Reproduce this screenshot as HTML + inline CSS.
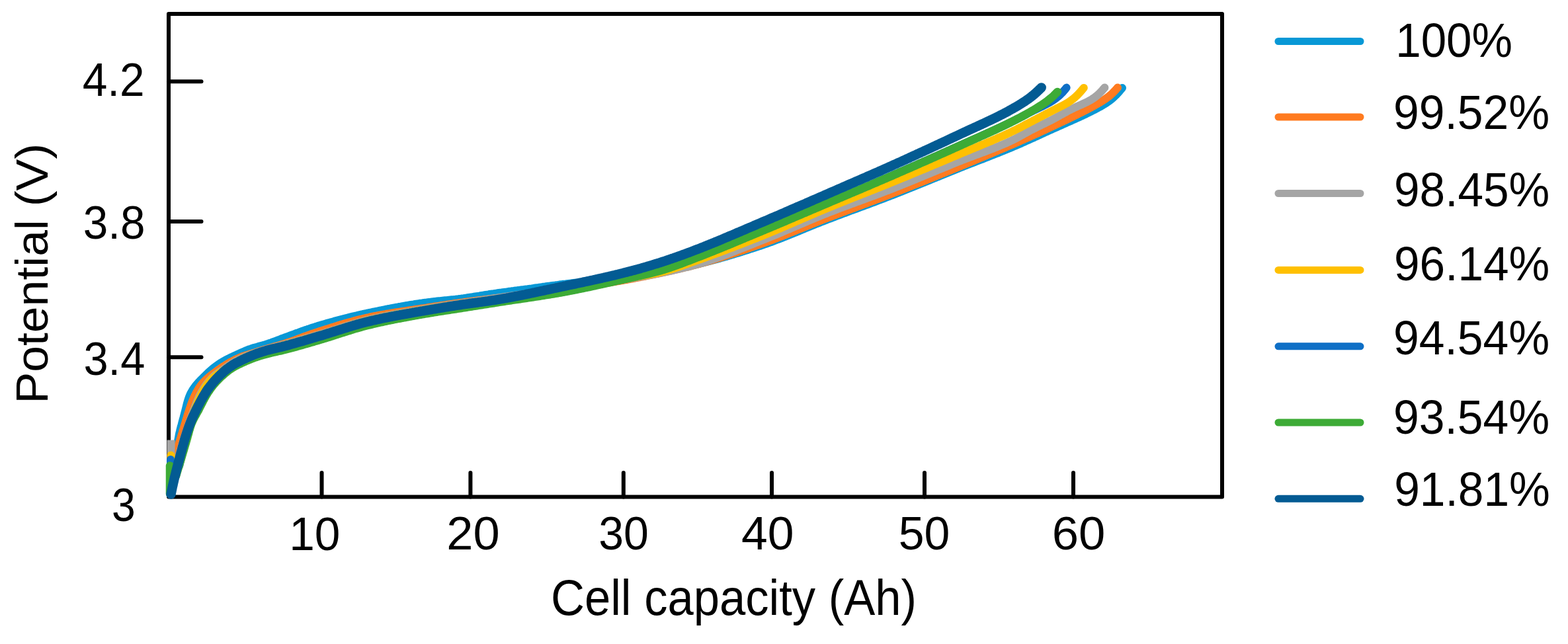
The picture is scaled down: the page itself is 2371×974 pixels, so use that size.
<!DOCTYPE html>
<html><head><meta charset="utf-8"><title>Potential vs cell capacity</title>
<style>html,body{margin:0;padding:0;background:#fff;width:2371px;height:974px;overflow:hidden}svg{display:block}</style>
</head><body>
<svg width="2371" height="974" viewBox="0 0 2371 974">
<rect width="2371" height="974" fill="#fff"/>
<g fill="none" stroke="#000" stroke-width="6" stroke-linecap="round" stroke-linejoin="round">
<path d="M255,751.5L255,21L1848,21L1848,751.5Z"/>
<path d="M255,123.3L304.5,123.3"/>
<path d="M255,335.0L304.5,335.0"/>
<path d="M255,540.2L304.5,540.2"/>
<path d="M486.5,751.5L486.5,715"/>
<path d="M711.4,751.5L711.4,715"/>
<path d="M942.8,751.5L942.8,715"/>
<path d="M1167.0,751.5L1167.0,715"/>
<path d="M1398.0,751.5L1398.0,715"/>
<path d="M1623.0,751.5L1623.0,715"/>
</g>
<g fill="none" stroke-width="11.5" stroke-linecap="round" stroke-linejoin="round">
<path stroke="#0898d6" stroke-width="12.0" d="M262.0,700.0L262.3,698.0L262.7,696.1L263.0,694.1L263.4,692.1L263.8,690.2L264.2,688.2L264.7,686.3L265.1,684.3L265.6,682.4L266.1,680.4L266.6,678.5L267.1,676.6L267.5,674.6L268.0,672.7L268.4,670.7L268.8,668.8L269.1,666.8L269.5,664.8L269.8,662.9L270.2,660.9L270.5,659.0L270.9,657.0L271.3,655.0L271.8,653.1L272.2,651.2L272.7,649.2L273.2,647.3L273.7,645.3L274.3,643.4L274.8,641.5L275.3,639.5L275.8,637.6L276.3,635.7L276.8,633.7L277.4,631.8L277.9,629.9L278.4,627.9L278.9,626.0L279.4,624.1L279.9,622.1L280.4,620.2L280.9,618.2L281.4,616.3L281.9,614.3L282.3,612.4L282.8,610.4L283.4,608.5L283.9,606.6L284.5,604.7L285.1,602.8L285.8,601.0L286.5,599.1L287.3,597.3L288.1,595.5L289.0,593.7L290.0,592.0L291.0,590.3L292.1,588.6L293.2,586.9L294.4,585.3L295.6,583.7L296.8,582.1L298.1,580.6L299.4,579.1L300.8,577.6L302.2,576.2L303.6,574.7L305.0,573.3L306.4,571.9L307.8,570.5L309.3,569.1L310.7,567.7L312.1,566.3L313.5,564.9L315.0,563.5L316.4,562.2L317.9,560.8L319.4,559.5L320.9,558.2L322.5,556.9L324.0,555.7L325.6,554.5L327.2,553.3L328.9,552.1L330.5,551.0L332.2,549.9L333.8,548.8L335.5,547.7L337.3,546.7L339.0,545.7L340.7,544.8L342.5,543.8L344.3,542.9L346.1,542.0L347.9,541.1L349.7,540.2L351.5,539.4L353.3,538.5L355.1,537.7L356.9,536.9L358.7,536.1L360.6,535.2L362.4,534.4L364.2,533.6L366.1,532.8L367.9,532.0L369.7,531.2L371.6,530.4L373.4,529.7L375.3,528.9L377.1,528.2L379.0,527.6L380.9,526.9L382.8,526.3L384.7,525.7L386.6,525.2L388.6,524.7L390.5,524.1L392.4,523.6L394.4,523.1L396.3,522.6L398.2,522.0L400.1,521.5L402.0,520.9L403.9,520.3L405.8,519.7L407.7,519.0L409.6,518.4L411.5,517.7L413.4,517.0L415.2,516.3L417.1,515.6L419.0,514.9L420.9,514.2L422.7,513.5L424.6,512.7L426.5,512.0L428.4,511.3L430.2,510.6L432.1,509.9L434.0,509.3L435.9,508.6L437.7,507.9L439.6,507.2L441.5,506.5L443.4,505.8L445.3,505.1L447.1,504.4L449.0,503.7L450.9,503.1L452.8,502.4L454.7,501.7L456.6,501.0L458.4,500.3L460.3,499.7L462.2,499.0L464.1,498.4L466.0,497.7L467.9,497.1L469.8,496.4L471.7,495.8L473.6,495.2L475.5,494.6L477.4,494.0L479.3,493.4L481.2,492.8L483.1,492.2L485.0,491.6L486.9,491.1L488.8,490.5L490.8,490.0L492.7,489.4L494.6,488.8L496.5,488.3L498.5,487.8L500.4,487.2L502.3,486.7L504.2,486.2L506.2,485.6L508.1,485.1L510.0,484.6L512.0,484.1L513.9,483.6L515.8,483.0L517.8,482.5L519.7,482.0L521.7,481.5L523.6,481.0L525.5,480.6L527.5,480.1L529.4,479.6L531.4,479.1L533.3,478.6L535.3,478.2L537.2,477.7L539.2,477.3L541.1,476.8L543.1,476.3L545.0,475.9L547.0,475.5L548.9,475.0L550.9,474.6L552.8,474.2L554.8,473.7L556.7,473.3L558.7,472.9L560.6,472.5L562.6,472.1L564.5,471.7L566.5,471.3L568.5,470.9L570.4,470.5L572.4,470.1L574.3,469.7L576.3,469.3L578.3,468.9L580.2,468.5L582.2,468.1L584.1,467.7L586.1,467.3L588.1,467.0L590.0,466.6L592.0,466.2L594.0,465.8L595.9,465.5L597.9,465.1L599.9,464.7L601.8,464.4L603.8,464.0L605.8,463.7L607.8,463.3L609.7,463.0L611.7,462.6L613.7,462.3L615.7,462.0L617.6,461.6L619.6,461.3L621.6,461.0L623.6,460.7L625.5,460.4L627.5,460.0L629.5,459.7L631.5,459.4L633.4,459.1L635.4,458.8L637.4,458.6L639.4,458.3L641.4,458.0L643.3,457.7L645.3,457.5L647.3,457.2L649.3,456.9L651.3,456.7L653.2,456.4L655.2,456.2L657.2,456.0L659.2,455.8L661.2,455.5L663.2,455.3L665.2,455.1L667.2,454.9L669.1,454.7L671.1,454.5L673.1,454.3L675.1,454.1L677.1,453.9L679.1,453.7L681.1,453.5L683.1,453.3L685.1,453.1L687.1,452.9L689.0,452.7L691.0,452.4L693.0,452.2L695.0,451.9L697.0,451.7L699.0,451.4L701.0,451.2L702.9,450.9L704.9,450.6L706.9,450.3L708.9,450.0L710.8,449.7L712.8,449.4L714.8,449.1L716.8,448.8L718.8,448.5L720.7,448.2L722.7,447.9L724.7,447.6L726.7,447.2L728.6,446.9L730.6,446.6L732.6,446.3L734.6,446.0L736.5,445.7L738.5,445.4L740.5,445.0L742.5,444.7L744.4,444.4L746.4,444.2L748.4,443.9L750.4,443.6L752.4,443.3L754.3,443.0L756.3,442.7L758.3,442.5L760.3,442.2L762.3,441.9L764.2,441.6L766.2,441.4L768.2,441.1L770.2,440.8L772.2,440.6L774.2,440.3L776.1,440.1L778.1,439.8L780.1,439.5L782.1,439.3L784.1,439.0L786.0,438.8L788.0,438.5L790.0,438.2L792.0,438.0L794.0,437.7L796.0,437.4L797.9,437.2L799.9,436.9L801.9,436.6L803.9,436.4L805.9,436.1L807.9,435.8L809.8,435.5L811.8,435.2L813.8,435.0L815.8,434.7L817.8,434.4L819.7,434.1L821.7,433.8L823.7,433.6L825.7,433.3L827.7,433.0L829.6,432.7L831.6,432.5L833.6,432.2L835.6,431.9L837.6,431.6L839.5,431.4L841.5,431.1L843.5,430.9L845.5,430.6L847.5,430.3L849.5,430.1L851.4,429.8L853.4,429.6L855.4,429.4L857.4,429.1L859.4,428.9L861.4,428.7L863.4,428.5L865.4,428.2L867.3,428.0L869.3,427.8L871.3,427.6L873.3,427.4L875.3,427.2L877.3,427.0L879.3,426.8L881.3,426.5L883.3,426.3L885.3,426.1L887.2,425.9L889.2,425.7L891.2,425.5L893.2,425.3L895.2,425.1L897.2,425.0L899.2,424.8L901.2,424.6L903.2,424.4L905.2,424.2L907.2,423.9L909.2,423.7L911.1,423.5L913.1,423.3L915.1,423.1L917.1,422.9L919.1,422.7L921.1,422.5L923.1,422.3L925.1,422.1L927.1,421.8L929.0,421.6L931.0,421.4L933.0,421.1L935.0,420.9L937.0,420.7L939.0,420.4L940.9,420.2L942.9,419.9L944.9,419.7L946.9,419.4L948.9,419.1L950.8,418.9L952.8,418.6L954.8,418.3L956.8,418.0L958.7,417.7L960.7,417.4L962.7,417.1L964.7,416.8L966.7,416.5L968.6,416.2L970.6,415.9L972.6,415.6L974.6,415.3L976.5,414.9L978.5,414.6L980.5,414.3L982.5,414.0L984.4,413.6L986.4,413.3L988.4,412.9L990.4,412.6L992.3,412.2L994.3,411.9L996.3,411.5L998.2,411.1L1000.2,410.8L1002.2,410.4L1004.1,410.0L1006.1,409.7L1008.1,409.3L1010.0,408.9L1012.0,408.5L1014.0,408.1L1015.9,407.7L1017.9,407.3L1019.9,407.0L1021.8,406.6L1023.8,406.1L1025.7,405.7L1027.7,405.3L1029.7,404.9L1031.6,404.5L1033.6,404.1L1035.5,403.7L1037.5,403.3L1039.4,402.8L1041.4,402.4L1043.3,402.0L1045.3,401.5L1047.2,401.1L1049.2,400.7L1051.1,400.2L1053.1,399.8L1055.0,399.3L1056.9,398.9L1058.9,398.4L1060.8,397.9L1062.8,397.5L1064.7,397.0L1066.6,396.5L1068.6,396.0L1070.5,395.5L1072.5,395.0L1074.4,394.5L1076.3,394.0L1078.3,393.5L1080.2,393.0L1082.1,392.5L1084.1,391.9L1086.0,391.4L1087.9,390.9L1089.9,390.3L1091.8,389.8L1093.7,389.2L1095.6,388.7L1097.6,388.1L1099.5,387.6L1101.4,387.0L1103.3,386.4L1105.3,385.9L1107.2,385.3L1109.1,384.7L1111.0,384.1L1112.9,383.5L1114.8,383.0L1116.8,382.4L1118.7,381.8L1120.6,381.2L1122.5,380.6L1124.4,380.0L1126.3,379.4L1128.2,378.8L1130.1,378.2L1132.0,377.6L1133.9,376.9L1135.8,376.3L1137.8,375.7L1139.7,375.1L1141.5,374.5L1143.4,373.9L1145.3,373.2L1147.2,372.6L1149.1,372.0L1151.0,371.3L1152.9,370.7L1154.8,370.0L1156.7,369.4L1158.6,368.7L1160.4,368.1L1162.3,367.4L1164.2,366.7L1166.1,366.0L1167.9,365.3L1169.8,364.6L1171.7,363.9L1173.6,363.2L1175.4,362.5L1177.3,361.8L1179.2,361.1L1181.0,360.4L1182.9,359.6L1184.7,358.9L1186.6,358.2L1188.5,357.4L1190.3,356.7L1192.2,355.9L1194.0,355.2L1195.9,354.4L1197.7,353.7L1199.6,352.9L1201.4,352.2L1203.3,351.4L1205.2,350.6L1207.0,349.9L1208.9,349.1L1210.7,348.3L1212.6,347.6L1214.4,346.8L1216.3,346.1L1218.1,345.3L1220.0,344.5L1221.8,343.8L1223.7,343.0L1225.5,342.3L1227.4,341.5L1229.2,340.8L1231.1,340.0L1233.0,339.2L1234.8,338.5L1236.7,337.8L1238.5,337.0L1240.4,336.3L1242.3,335.5L1244.1,334.8L1246.0,334.1L1247.8,333.4L1249.7,332.6L1251.6,331.9L1253.4,331.2L1255.3,330.5L1257.2,329.8L1259.0,329.1L1260.9,328.4L1262.8,327.6L1264.7,326.9L1266.5,326.2L1268.4,325.5L1270.3,324.8L1272.1,324.1L1274.0,323.4L1275.9,322.7L1277.8,322.0L1279.6,321.3L1281.5,320.6L1283.4,319.9L1285.3,319.2L1287.1,318.5L1289.0,317.8L1290.9,317.1L1292.8,316.5L1294.6,315.8L1296.5,315.1L1298.4,314.4L1300.3,313.7L1302.1,313.0L1304.0,312.3L1305.9,311.6L1307.8,310.9L1309.6,310.2L1311.5,309.5L1313.4,308.8L1315.3,308.1L1317.1,307.4L1319.0,306.7L1320.9,306.0L1322.8,305.3L1324.6,304.6L1326.5,303.9L1328.4,303.2L1330.2,302.5L1332.1,301.8L1334.0,301.0L1335.9,300.3L1337.7,299.6L1339.6,298.9L1341.5,298.2L1343.3,297.5L1345.2,296.8L1347.1,296.0L1348.9,295.3L1350.8,294.6L1352.6,293.9L1354.5,293.1L1356.4,292.4L1358.2,291.7L1360.1,290.9L1361.9,290.2L1363.8,289.5L1365.7,288.7L1367.5,288.0L1369.4,287.2L1371.2,286.5L1373.1,285.7L1374.9,285.0L1376.8,284.3L1378.7,283.5L1380.5,282.8L1382.4,282.0L1384.2,281.3L1386.1,280.5L1387.9,279.7L1389.8,279.0L1391.6,278.2L1393.5,277.5L1395.3,276.7L1397.2,276.0L1399.0,275.2L1400.9,274.5L1402.7,273.7L1404.6,273.0L1406.4,272.2L1408.3,271.4L1410.1,270.7L1412.0,269.9L1413.9,269.2L1415.7,268.4L1417.6,267.7L1419.4,266.9L1421.3,266.1L1423.1,265.4L1425.0,264.6L1426.8,263.9L1428.7,263.1L1430.5,262.4L1432.4,261.6L1434.2,260.9L1436.1,260.1L1437.9,259.4L1439.8,258.6L1441.6,257.9L1443.5,257.1L1445.4,256.4L1447.2,255.6L1449.1,254.9L1450.9,254.1L1452.8,253.4L1454.6,252.7L1456.5,251.9L1458.4,251.2L1460.2,250.5L1462.1,249.7L1463.9,249.0L1465.8,248.3L1467.7,247.5L1469.5,246.8L1471.4,246.1L1473.3,245.4L1475.1,244.6L1477.0,243.9L1478.9,243.2L1480.7,242.5L1482.6,241.7L1484.5,241.0L1486.3,240.3L1488.2,239.6L1490.0,238.8L1491.9,238.1L1493.8,237.4L1495.6,236.6L1497.5,235.9L1499.4,235.2L1501.2,234.5L1503.1,233.7L1504.9,233.0L1506.8,232.2L1508.7,231.5L1510.5,230.8L1512.4,230.0L1514.2,229.3L1516.1,228.5L1517.9,227.8L1519.8,227.0L1521.6,226.3L1523.5,225.5L1525.3,224.7L1527.2,224.0L1529.0,223.2L1530.9,222.4L1532.7,221.6L1534.5,220.8L1536.4,220.1L1538.2,219.3L1540.0,218.5L1541.9,217.7L1543.7,216.9L1545.5,216.1L1547.4,215.2L1549.2,214.4L1551.0,213.6L1552.8,212.8L1554.7,212.0L1556.5,211.2L1558.3,210.3L1560.1,209.5L1562.0,208.7L1563.8,207.9L1565.6,207.0L1567.4,206.2L1569.2,205.4L1571.1,204.5L1572.9,203.7L1574.7,202.8L1576.5,202.0L1578.3,201.2L1580.1,200.3L1582.0,199.5L1583.8,198.7L1585.6,197.8L1587.4,197.0L1589.2,196.2L1591.1,195.4L1592.9,194.5L1594.7,193.7L1596.5,192.9L1598.4,192.1L1600.2,191.3L1602.0,190.5L1603.8,189.7L1605.7,188.9L1607.5,188.1L1609.3,187.3L1611.2,186.4L1613.0,185.6L1614.8,184.8L1616.6,184.0L1618.5,183.2L1620.3,182.4L1622.1,181.5L1623.9,180.7L1625.8,179.9L1627.6,179.1L1629.4,178.2L1631.2,177.4L1633.1,176.6L1634.9,175.7L1636.7,174.9L1638.5,174.1L1640.3,173.2L1642.1,172.4L1643.9,171.5L1645.7,170.6L1647.5,169.7L1649.3,168.8L1651.1,167.9L1652.9,167.0L1654.7,166.1L1656.4,165.2L1658.2,164.2L1660.0,163.3L1661.8,162.3L1663.5,161.4L1665.3,160.4L1667.0,159.4L1668.7,158.3L1670.5,157.3L1672.1,156.2L1673.8,155.1L1675.4,154.0L1677.0,152.9L1678.6,151.7L1680.2,150.5L1681.7,149.2L1683.2,147.9L1684.6,146.6L1686.1,145.2L1687.5,143.9L1688.9,142.4L1690.2,141.0L1691.5,139.5L1692.8,138.1L1694.0,136.6L1695.2,135.2L1696.4,133.7L1697.0,133.0"/>
<path stroke="#ff7b20" stroke-width="12.0" d="M263.0,700.0L263.4,698.0L263.8,696.1L264.2,694.1L264.7,692.2L265.1,690.2L265.6,688.3L266.1,686.3L266.6,684.4L267.1,682.5L267.7,680.6L268.2,678.7L268.8,676.7L269.4,674.8L270.0,672.9L270.6,671.0L271.2,669.1L271.8,667.2L272.4,665.3L273.0,663.4L273.6,661.5L274.1,659.5L274.7,657.6L275.3,655.7L275.9,653.8L276.4,651.9L277.0,650.0L277.6,648.0L278.2,646.1L278.7,644.2L279.3,642.3L279.9,640.4L280.5,638.5L281.0,636.6L281.6,634.6L282.2,632.7L282.8,630.8L283.3,628.9L283.9,627.0L284.5,625.1L285.1,623.2L285.8,621.3L286.4,619.4L287.0,617.5L287.7,615.6L288.3,613.7L289.0,611.8L289.7,609.9L290.4,608.0L291.2,606.2L291.9,604.3L292.7,602.5L293.5,600.7L294.3,598.9L295.2,597.0L296.1,595.3L297.0,593.5L298.0,591.7L299.0,590.0L300.0,588.3L301.1,586.6L302.2,584.9L303.4,583.3L304.6,581.7L305.8,580.2L307.1,578.7L308.4,577.3L309.8,575.8L311.2,574.5L312.7,573.1L314.2,571.8L315.7,570.5L317.3,569.2L318.8,567.9L320.4,566.7L322.0,565.4L323.6,564.2L325.2,563.0L326.8,561.8L328.4,560.6L330.0,559.4L331.7,558.3L333.3,557.2L335.0,556.0L336.6,554.9L338.3,553.8L340.0,552.8L341.7,551.7L343.4,550.7L345.1,549.6L346.8,548.6L348.6,547.6L350.3,546.7L352.1,545.7L353.9,544.8L355.6,543.9L357.4,543.0L359.3,542.2L361.1,541.4L362.9,540.6L364.8,539.9L366.6,539.2L368.5,538.5L370.4,537.9L372.3,537.2L374.2,536.6L376.1,536.0L378.0,535.4L379.9,534.9L381.9,534.3L383.8,533.7L385.7,533.1L387.6,532.5L389.5,531.8L391.4,531.2L393.3,530.6L395.2,530.0L397.1,529.4L399.0,528.9L400.9,528.3L402.9,527.7L404.8,527.1L406.7,526.6L408.6,526.0L410.5,525.5L412.5,524.9L414.4,524.4L416.3,523.9L418.2,523.3L420.2,522.8L422.1,522.2L424.0,521.6L425.9,521.1L427.8,520.5L429.7,519.9L431.6,519.3L433.5,518.7L435.4,518.0L437.3,517.4L439.2,516.8L441.1,516.1L443.0,515.4L444.9,514.8L446.8,514.1L448.6,513.4L450.5,512.7L452.4,512.0L454.3,511.3L456.2,510.6L458.0,509.9L459.9,509.2L461.8,508.5L463.7,507.9L465.6,507.2L467.4,506.5L469.3,505.8L471.2,505.2L473.1,504.5L475.0,503.9L476.9,503.2L478.8,502.6L480.7,502.0L482.6,501.3L484.5,500.7L486.4,500.1L488.3,499.5L490.2,498.9L492.1,498.3L494.0,497.7L495.9,497.1L497.8,496.5L499.7,495.9L501.6,495.3L503.6,494.7L505.5,494.1L507.4,493.5L509.3,492.9L511.2,492.3L513.1,491.7L515.1,491.1L517.0,490.6L518.9,490.0L520.8,489.4L522.8,488.9L524.7,488.3L526.6,487.8L528.5,487.2L530.5,486.7L532.4,486.2L534.3,485.6L536.3,485.1L538.2,484.6L540.1,484.1L542.1,483.6L544.0,483.1L545.9,482.7L547.9,482.2L549.8,481.7L551.8,481.3L553.7,480.8L555.7,480.4L557.6,480.0L559.5,479.5L561.5,479.1L563.4,478.7L565.4,478.3L567.4,478.0L569.3,477.6L571.3,477.2L573.2,476.8L575.2,476.5L577.2,476.1L579.1,475.8L581.1,475.4L583.1,475.1L585.0,474.7L587.0,474.4L589.0,474.1L590.9,473.8L592.9,473.4L594.9,473.1L596.9,472.8L598.8,472.5L600.8,472.2L602.8,471.9L604.8,471.6L606.8,471.3L608.7,471.0L610.7,470.7L612.7,470.4L614.7,470.1L616.7,469.8L618.7,469.5L620.6,469.2L622.6,468.9L624.6,468.6L626.6,468.3L628.6,468.0L630.5,467.7L632.5,467.4L634.5,467.1L636.5,466.8L638.5,466.5L640.4,466.3L642.4,466.0L644.4,465.7L646.4,465.3L648.4,465.0L650.3,464.7L652.3,464.4L654.3,464.1L656.3,463.8L658.2,463.5L660.2,463.2L662.2,462.9L664.2,462.6L666.2,462.3L668.1,462.0L670.1,461.7L672.1,461.4L674.1,461.1L676.0,460.8L678.0,460.5L680.0,460.2L682.0,459.9L684.0,459.6L685.9,459.3L687.9,459.0L689.9,458.7L691.9,458.5L693.8,458.2L695.8,457.9L697.8,457.6L699.8,457.4L701.8,457.1L703.8,456.8L705.7,456.6L707.7,456.3L709.7,456.1L711.7,455.8L713.7,455.5L715.7,455.3L717.6,455.0L719.6,454.8L721.6,454.5L723.6,454.3L725.6,454.1L727.6,453.8L729.5,453.6L731.5,453.3L733.5,453.1L735.5,452.8L737.5,452.6L739.5,452.3L741.5,452.1L743.4,451.8L745.4,451.6L747.4,451.3L749.4,451.1L751.4,450.8L753.4,450.6L755.3,450.3L757.3,450.1L759.3,449.8L761.3,449.6L763.3,449.3L765.3,449.1L767.3,448.8L769.2,448.6L771.2,448.3L773.2,448.1L775.2,447.8L777.2,447.6L779.2,447.3L781.1,447.0L783.1,446.8L785.1,446.5L787.1,446.3L789.1,446.0L791.1,445.8L793.1,445.5L795.0,445.3L797.0,445.0L799.0,444.8L801.0,444.5L803.0,444.3L805.0,444.0L806.9,443.8L808.9,443.5L810.9,443.3L812.9,443.0L814.9,442.7L816.9,442.5L818.8,442.2L820.8,442.0L822.8,441.7L824.8,441.4L826.8,441.2L828.8,440.9L830.7,440.6L832.7,440.4L834.7,440.1L836.7,439.8L838.7,439.6L840.6,439.3L842.6,439.0L844.6,438.7L846.6,438.5L848.6,438.2L850.5,437.9L852.5,437.6L854.5,437.4L856.5,437.1L858.5,436.8L860.4,436.5L862.4,436.2L864.4,436.0L866.4,435.7L868.4,435.4L870.3,435.1L872.3,434.8L874.3,434.5L876.3,434.2L878.3,434.0L880.2,433.7L882.2,433.4L884.2,433.1L886.2,432.8L888.2,432.5L890.1,432.2L892.1,431.9L894.1,431.6L896.1,431.3L898.1,431.0L900.0,430.7L902.0,430.4L904.0,430.1L906.0,429.8L908.0,429.5L909.9,429.2L911.9,428.9L913.9,428.6L915.9,428.3L917.8,427.9L919.8,427.6L921.8,427.3L923.8,427.0L925.7,426.7L927.7,426.3L929.7,426.0L931.6,425.7L933.6,425.3L935.6,425.0L937.6,424.7L939.5,424.3L941.5,424.0L943.5,423.6L945.4,423.3L947.4,423.0L949.4,422.6L951.3,422.2L953.3,421.9L955.3,421.5L957.2,421.2L959.2,420.8L961.2,420.4L963.1,420.1L965.1,419.7L967.1,419.3L969.0,418.9L971.0,418.6L973.0,418.2L974.9,417.8L976.9,417.4L978.8,417.0L980.8,416.6L982.8,416.2L984.7,415.8L986.7,415.4L988.7,415.0L990.6,414.6L992.6,414.2L994.5,413.8L996.5,413.4L998.5,413.0L1000.4,412.5L1002.4,412.1L1004.3,411.7L1006.3,411.3L1008.2,410.8L1010.2,410.4L1012.2,410.0L1014.1,409.5L1016.1,409.1L1018.0,408.6L1020.0,408.2L1021.9,407.7L1023.9,407.3L1025.8,406.8L1027.7,406.4L1029.7,405.9L1031.6,405.4L1033.6,405.0L1035.5,404.5L1037.5,404.0L1039.4,403.6L1041.3,403.1L1043.3,402.6L1045.2,402.1L1047.1,401.6L1049.1,401.1L1051.0,400.6L1052.9,400.1L1054.9,399.6L1056.8,399.1L1058.7,398.6L1060.6,398.0L1062.6,397.5L1064.5,397.0L1066.4,396.4L1068.3,395.9L1070.3,395.3L1072.2,394.8L1074.1,394.2L1076.0,393.6L1077.9,393.1L1079.8,392.5L1081.8,391.9L1083.7,391.3L1085.6,390.8L1087.5,390.2L1089.4,389.6L1091.3,389.0L1093.2,388.4L1095.1,387.8L1097.1,387.2L1099.0,386.5L1100.9,385.9L1102.8,385.3L1104.7,384.7L1106.6,384.1L1108.5,383.4L1110.4,382.8L1112.3,382.2L1114.2,381.5L1116.1,380.9L1118.0,380.3L1119.9,379.6L1121.8,379.0L1123.7,378.3L1125.6,377.7L1127.5,377.0L1129.4,376.4L1131.3,375.7L1133.1,375.1L1135.0,374.4L1136.9,373.8L1138.8,373.1L1140.7,372.4L1142.6,371.8L1144.5,371.1L1146.4,370.5L1148.2,369.8L1150.1,369.1L1152.0,368.5L1153.9,367.8L1155.8,367.1L1157.6,366.4L1159.5,365.8L1161.4,365.1L1163.3,364.4L1165.1,363.7L1167.0,363.0L1168.9,362.3L1170.8,361.6L1172.6,360.8L1174.5,360.1L1176.4,359.4L1178.2,358.7L1180.1,357.9L1181.9,357.2L1183.8,356.5L1185.7,355.8L1187.5,355.0L1189.4,354.3L1191.2,353.5L1193.1,352.8L1195.0,352.0L1196.8,351.3L1198.7,350.6L1200.5,349.8L1202.4,349.1L1204.2,348.3L1206.1,347.5L1207.9,346.8L1209.8,346.0L1211.7,345.3L1213.5,344.5L1215.4,343.8L1217.2,343.0L1219.1,342.3L1220.9,341.5L1222.8,340.8L1224.6,340.0L1226.5,339.3L1228.4,338.5L1230.2,337.8L1232.1,337.1L1233.9,336.3L1235.8,335.6L1237.6,334.8L1239.5,334.1L1241.4,333.4L1243.2,332.6L1245.1,331.9L1247.0,331.2L1248.8,330.5L1250.7,329.8L1252.6,329.0L1254.4,328.3L1256.3,327.6L1258.2,326.9L1260.0,326.2L1261.9,325.5L1263.8,324.8L1265.6,324.1L1267.5,323.4L1269.4,322.7L1271.3,322.0L1273.1,321.2L1275.0,320.5L1276.9,319.8L1278.8,319.1L1280.6,318.4L1282.5,317.8L1284.4,317.1L1286.3,316.4L1288.1,315.7L1290.0,315.0L1291.9,314.3L1293.8,313.6L1295.6,312.9L1297.5,312.2L1299.4,311.5L1301.3,310.8L1303.1,310.1L1305.0,309.4L1306.9,308.7L1308.8,308.0L1310.6,307.3L1312.5,306.6L1314.4,305.9L1316.3,305.2L1318.1,304.5L1320.0,303.8L1321.9,303.1L1323.7,302.4L1325.6,301.7L1327.5,301.0L1329.4,300.3L1331.2,299.6L1333.1,298.9L1335.0,298.2L1336.8,297.4L1338.7,296.7L1340.6,296.0L1342.4,295.3L1344.3,294.6L1346.2,293.9L1348.0,293.1L1349.9,292.4L1351.8,291.7L1353.6,291.0L1355.5,290.3L1357.4,289.5L1359.2,288.8L1361.1,288.1L1362.9,287.3L1364.8,286.6L1366.7,285.9L1368.5,285.1L1370.4,284.4L1372.3,283.7L1374.1,282.9L1376.0,282.2L1377.8,281.5L1379.7,280.7L1381.5,280.0L1383.4,279.3L1385.3,278.5L1387.1,277.8L1389.0,277.0L1390.8,276.3L1392.7,275.6L1394.6,274.8L1396.4,274.1L1398.3,273.3L1400.1,272.6L1402.0,271.8L1403.8,271.1L1405.7,270.3L1407.5,269.6L1409.4,268.8L1411.3,268.1L1413.1,267.3L1415.0,266.6L1416.8,265.8L1418.7,265.1L1420.5,264.3L1422.4,263.6L1424.2,262.8L1426.1,262.1L1427.9,261.3L1429.8,260.6L1431.6,259.8L1433.5,259.1L1435.3,258.3L1437.2,257.5L1439.0,256.8L1440.9,256.0L1442.7,255.3L1444.6,254.5L1446.4,253.8L1448.3,253.0L1450.1,252.2L1452.0,251.5L1453.8,250.7L1455.7,250.0L1457.5,249.2L1459.4,248.4L1461.2,247.7L1463.1,246.9L1464.9,246.1L1466.8,245.4L1468.6,244.6L1470.5,243.8L1472.3,243.1L1474.2,242.3L1476.0,241.5L1477.9,240.8L1479.7,240.0L1481.6,239.2L1483.4,238.5L1485.3,237.7L1487.1,236.9L1488.9,236.1L1490.8,235.4L1492.6,234.6L1494.5,233.8L1496.3,233.0L1498.2,232.3L1500.0,231.5L1501.8,230.7L1503.7,229.9L1505.5,229.2L1507.4,228.4L1509.2,227.6L1511.1,226.8L1512.9,226.0L1514.7,225.2L1516.6,224.5L1518.4,223.7L1520.3,222.9L1522.1,222.1L1523.9,221.3L1525.8,220.5L1527.6,219.7L1529.4,218.9L1531.3,218.1L1533.1,217.3L1534.9,216.6L1536.8,215.8L1538.6,215.0L1540.4,214.2L1542.3,213.4L1544.1,212.5L1545.9,211.7L1547.8,210.9L1549.6,210.1L1551.4,209.3L1553.3,208.5L1555.1,207.7L1556.9,206.9L1558.7,206.1L1560.6,205.2L1562.4,204.4L1564.2,203.6L1566.0,202.8L1567.8,201.9L1569.7,201.1L1571.5,200.3L1573.3,199.4L1575.1,198.6L1576.9,197.8L1578.7,196.9L1580.6,196.1L1582.4,195.2L1584.2,194.4L1586.0,193.6L1587.8,192.7L1589.6,191.9L1591.4,191.0L1593.3,190.2L1595.1,189.3L1596.9,188.5L1598.7,187.6L1600.5,186.8L1602.3,185.9L1604.1,185.1L1605.9,184.2L1607.7,183.4L1609.5,182.5L1611.4,181.7L1613.2,180.8L1615.0,179.9L1616.8,179.1L1618.6,178.2L1620.4,177.3L1622.2,176.4L1624.0,175.6L1625.8,174.7L1627.6,173.8L1629.4,172.9L1631.1,172.0L1632.9,171.1L1634.7,170.3L1636.5,169.4L1638.3,168.5L1640.1,167.5L1641.9,166.6L1643.6,165.7L1645.4,164.8L1647.2,163.8L1648.9,162.9L1650.7,161.9L1652.5,161.0L1654.2,160.0L1655.9,159.0L1657.7,158.0L1659.4,157.0L1661.2,156.0L1662.9,155.0L1664.6,154.0L1666.4,152.9L1668.1,151.8L1669.7,150.7L1671.4,149.6L1673.0,148.5L1674.6,147.3L1676.2,146.1L1677.8,144.9L1679.3,143.6L1680.7,142.3L1682.2,141.0L1683.6,139.6L1684.9,138.2L1686.2,136.8L1687.5,135.4L1688.8,133.9L1690.0,132.5"/>
<path stroke="#a5a5a5" stroke-width="12.0" stroke-linecap="butt" d="M258.5,747.0L258.5,665.5"/>
<path stroke="#a5a5a5" stroke-width="12.0" d="M268.0,700.0L268.5,698.1L268.9,696.1L269.4,694.2L269.9,692.2L270.3,690.3L270.8,688.3L271.3,686.4L271.9,684.5L272.4,682.5L272.9,680.6L273.5,678.7L274.0,676.8L274.6,674.9L275.2,672.9L275.8,671.0L276.4,669.1L277.0,667.2L277.6,665.3L278.2,663.4L278.8,661.5L279.4,659.6L280.0,657.7L280.6,655.8L281.3,653.9L281.9,652.0L282.5,650.1L283.1,648.2L283.7,646.3L284.4,644.4L285.0,642.5L285.7,640.6L286.3,638.7L287.0,636.8L287.6,634.9L288.3,633.1L289.0,631.2L289.7,629.3L290.4,627.4L291.1,625.6L291.8,623.7L292.5,621.8L293.2,619.9L293.9,618.1L294.6,616.2L295.3,614.3L296.0,612.4L296.8,610.6L297.5,608.7L298.2,606.8L299.0,605.0L299.8,603.2L300.6,601.3L301.4,599.5L302.3,597.7L303.2,596.0L304.1,594.2L305.1,592.4L306.1,590.7L307.1,589.0L308.1,587.2L309.2,585.6L310.3,583.9L311.5,582.3L312.6,580.7L313.9,579.1L315.1,577.5L316.4,576.0L317.7,574.5L319.1,573.0L320.5,571.6L321.9,570.2L323.4,568.9L324.9,567.6L326.5,566.4L328.1,565.2L329.7,564.1L331.3,562.9L333.0,561.8L334.7,560.7L336.3,559.6L338.0,558.5L339.6,557.3L341.3,556.2L342.9,555.0L344.5,553.9L346.2,552.8L347.9,551.6L349.5,550.5L351.2,549.4L352.9,548.4L354.6,547.3L356.3,546.3L358.1,545.3L359.8,544.4L361.6,543.4L363.4,542.5L365.1,541.7L367.0,540.8L368.8,540.0L370.6,539.2L372.5,538.5L374.3,537.7L376.2,537.0L378.1,536.3L379.9,535.6L381.8,534.9L383.7,534.3L385.6,533.6L387.5,533.0L389.4,532.4L391.3,531.7L393.2,531.1L395.1,530.5L397.0,530.0L398.9,529.4L400.9,528.8L402.8,528.3L404.7,527.7L406.6,527.2L408.6,526.7L410.5,526.1L412.4,525.6L414.4,525.1L416.3,524.6L418.2,524.1L420.2,523.6L422.1,523.1L424.0,522.6L426.0,522.1L427.9,521.5L429.8,521.0L431.8,520.5L433.7,520.0L435.6,519.4L437.5,518.9L439.5,518.4L441.4,517.8L443.3,517.3L445.2,516.7L447.2,516.2L449.1,515.7L451.0,515.1L452.9,514.6L454.9,514.0L456.8,513.5L458.7,512.9L460.6,512.4L462.6,511.8L464.5,511.3L466.4,510.7L468.3,510.2L470.2,509.6L472.2,509.1L474.1,508.5L476.0,507.9L477.9,507.4L479.8,506.8L481.8,506.3L483.7,505.7L485.6,505.1L487.5,504.5L489.4,504.0L491.4,503.4L493.3,502.8L495.2,502.2L497.1,501.6L499.0,501.0L500.9,500.4L502.8,499.8L504.7,499.2L506.6,498.6L508.6,498.0L510.5,497.4L512.4,496.8L514.3,496.2L516.2,495.5L518.1,494.9L520.0,494.3L521.9,493.7L523.8,493.1L525.7,492.6L527.7,492.0L529.6,491.4L531.5,490.8L533.4,490.2L535.3,489.7L537.2,489.1L539.2,488.5L541.1,488.0L543.0,487.4L544.9,486.9L546.9,486.4L548.8,485.9L550.7,485.4L552.6,484.9L554.6,484.4L556.5,483.9L558.4,483.4L560.4,483.0L562.3,482.5L564.3,482.1L566.2,481.6L568.2,481.2L570.1,480.8L572.1,480.3L574.0,479.9L576.0,479.5L577.9,479.1L579.9,478.7L581.8,478.3L583.8,477.9L585.8,477.5L587.7,477.1L589.7,476.7L591.6,476.3L593.6,475.9L595.6,475.6L597.5,475.2L599.5,474.8L601.5,474.5L603.4,474.1L605.4,473.7L607.4,473.4L609.3,473.0L611.3,472.7L613.3,472.3L615.3,472.0L617.2,471.6L619.2,471.3L621.2,470.9L623.2,470.6L625.1,470.2L627.1,469.9L629.1,469.6L631.1,469.2L633.0,468.9L635.0,468.5L637.0,468.2L638.9,467.9L640.9,467.5L642.9,467.2L644.9,466.9L646.8,466.5L648.8,466.2L650.8,465.9L652.8,465.6L654.7,465.2L656.7,464.9L658.7,464.6L660.7,464.3L662.6,464.0L664.6,463.6L666.6,463.3L668.6,463.0L670.5,462.7L672.5,462.4L674.5,462.1L676.5,461.8L678.4,461.5L680.4,461.2L682.4,460.9L684.4,460.6L686.3,460.3L688.3,460.0L690.3,459.7L692.3,459.4L694.3,459.1L696.2,458.8L698.2,458.5L700.2,458.2L702.2,457.9L704.2,457.6L706.1,457.4L708.1,457.1L710.1,456.8L712.1,456.5L714.0,456.2L716.0,455.9L718.0,455.6L720.0,455.3L722.0,455.1L723.9,454.8L725.9,454.5L727.9,454.2L729.9,453.9L731.9,453.6L733.8,453.3L735.8,453.1L737.8,452.8L739.8,452.5L741.8,452.2L743.7,451.9L745.7,451.6L747.7,451.3L749.7,451.0L751.7,450.8L753.6,450.5L755.6,450.2L757.6,449.9L759.6,449.6L761.5,449.3L763.5,449.0L765.5,448.7L767.5,448.4L769.5,448.1L771.4,447.8L773.4,447.5L775.4,447.2L777.4,446.9L779.3,446.6L781.3,446.3L783.3,446.0L785.3,445.7L787.3,445.4L789.2,445.1L791.2,444.8L793.2,444.5L795.2,444.2L797.1,443.9L799.1,443.6L801.1,443.3L803.1,443.0L805.1,442.7L807.0,442.4L809.0,442.1L811.0,441.8L813.0,441.5L814.9,441.2L816.9,440.9L818.9,440.6L820.9,440.3L822.9,440.1L824.8,439.8L826.8,439.5L828.8,439.2L830.8,438.9L832.7,438.6L834.7,438.3L836.7,438.0L838.7,437.7L840.7,437.4L842.6,437.1L844.6,436.8L846.6,436.5L848.6,436.2L850.5,435.9L852.5,435.6L854.5,435.3L856.5,435.1L858.5,434.8L860.4,434.5L862.4,434.2L864.4,433.9L866.4,433.6L868.4,433.4L870.3,433.1L872.3,432.8L874.3,432.5L876.3,432.2L878.3,432.0L880.3,431.7L882.2,431.4L884.2,431.1L886.2,430.9L888.2,430.6L890.2,430.3L892.1,430.0L894.1,429.8L896.1,429.5L898.1,429.2L900.1,428.9L902.0,428.6L904.0,428.4L906.0,428.1L908.0,427.8L910.0,427.5L911.9,427.2L913.9,427.0L915.9,426.7L917.9,426.4L919.9,426.1L921.8,425.8L923.8,425.5L925.8,425.2L927.8,424.9L929.8,424.6L931.7,424.3L933.7,424.0L935.7,423.7L937.7,423.4L939.6,423.1L941.6,422.8L943.6,422.5L945.6,422.2L947.5,421.9L949.5,421.6L951.5,421.2L953.5,420.9L955.4,420.6L957.4,420.3L959.4,419.9L961.4,419.6L963.3,419.3L965.3,418.9L967.3,418.6L969.2,418.3L971.2,417.9L973.2,417.6L975.1,417.2L977.1,416.9L979.1,416.5L981.1,416.1L983.0,415.8L985.0,415.4L987.0,415.0L988.9,414.7L990.9,414.3L992.8,413.9L994.8,413.5L996.8,413.1L998.7,412.7L1000.7,412.3L1002.6,411.9L1004.6,411.5L1006.6,411.1L1008.5,410.7L1010.5,410.3L1012.4,409.9L1014.4,409.5L1016.4,409.1L1018.3,408.6L1020.3,408.2L1022.2,407.8L1024.2,407.3L1026.1,406.9L1028.1,406.4L1030.0,406.0L1032.0,405.5L1033.9,405.0L1035.9,404.5L1037.8,404.1L1039.7,403.6L1041.7,403.1L1043.6,402.6L1045.5,402.1L1047.5,401.5L1049.4,401.0L1051.3,400.5L1053.2,399.9L1055.1,399.4L1057.0,398.8L1058.9,398.2L1060.9,397.7L1062.8,397.1L1064.7,396.5L1066.6,395.9L1068.5,395.3L1070.4,394.6L1072.2,394.0L1074.1,393.4L1076.0,392.7L1077.9,392.1L1079.8,391.4L1081.7,390.7L1083.6,390.1L1085.5,389.4L1087.3,388.7L1089.2,388.0L1091.1,387.3L1093.0,386.6L1094.9,385.9L1096.7,385.2L1098.6,384.5L1100.5,383.8L1102.4,383.1L1104.2,382.4L1106.1,381.7L1108.0,380.9L1109.8,380.2L1111.7,379.5L1113.6,378.7L1115.4,378.0L1117.3,377.3L1119.2,376.5L1121.0,375.8L1122.9,375.0L1124.8,374.3L1126.6,373.6L1128.5,372.8L1130.3,372.1L1132.2,371.3L1134.1,370.6L1135.9,369.9L1137.8,369.1L1139.7,368.4L1141.5,367.6L1143.4,366.9L1145.2,366.2L1147.1,365.4L1149.0,364.7L1150.8,364.0L1152.7,363.2L1154.5,362.5L1156.4,361.8L1158.3,361.0L1160.1,360.3L1162.0,359.5L1163.8,358.8L1165.7,358.0L1167.5,357.2L1169.4,356.5L1171.2,355.7L1173.1,355.0L1174.9,354.2L1176.7,353.4L1178.6,352.6L1180.4,351.9L1182.3,351.1L1184.1,350.3L1186.0,349.5L1187.8,348.7L1189.6,348.0L1191.5,347.2L1193.3,346.4L1195.2,345.6L1197.0,344.8L1198.8,344.0L1200.7,343.2L1202.5,342.4L1204.4,341.7L1206.2,340.9L1208.0,340.1L1209.9,339.3L1211.7,338.5L1213.6,337.7L1215.4,336.9L1217.2,336.1L1219.1,335.4L1220.9,334.6L1222.8,333.8L1224.6,333.0L1226.4,332.3L1228.3,331.5L1230.1,330.7L1232.0,329.9L1233.8,329.2L1235.7,328.4L1237.5,327.7L1239.4,326.9L1241.2,326.1L1243.1,325.4L1244.9,324.6L1246.8,323.9L1248.7,323.2L1250.5,322.4L1252.4,321.7L1254.2,321.0L1256.1,320.2L1258.0,319.5L1259.8,318.8L1261.7,318.1L1263.6,317.3L1265.4,316.6L1267.3,315.9L1269.2,315.2L1271.0,314.5L1272.9,313.8L1274.8,313.1L1276.6,312.4L1278.5,311.7L1280.4,311.0L1282.3,310.3L1284.1,309.6L1286.0,308.9L1287.9,308.2L1289.8,307.5L1291.7,306.8L1293.5,306.1L1295.4,305.4L1297.3,304.8L1299.2,304.1L1301.0,303.4L1302.9,302.7L1304.8,302.0L1306.7,301.3L1308.5,300.6L1310.4,299.9L1312.3,299.2L1314.2,298.5L1316.1,297.8L1317.9,297.1L1319.8,296.5L1321.7,295.8L1323.6,295.1L1325.4,294.4L1327.3,293.7L1329.2,293.0L1331.1,292.3L1332.9,291.5L1334.8,290.8L1336.7,290.1L1338.5,289.4L1340.4,288.7L1342.3,288.0L1344.1,287.3L1346.0,286.5L1347.9,285.8L1349.7,285.1L1351.6,284.4L1353.4,283.6L1355.3,282.9L1357.2,282.2L1359.0,281.4L1360.9,280.7L1362.7,279.9L1364.6,279.2L1366.4,278.4L1368.3,277.7L1370.2,276.9L1372.0,276.2L1373.9,275.4L1375.7,274.7L1377.6,273.9L1379.4,273.2L1381.3,272.4L1383.1,271.7L1385.0,270.9L1386.8,270.1L1388.7,269.4L1390.5,268.6L1392.4,267.8L1394.2,267.1L1396.1,266.3L1397.9,265.5L1399.7,264.8L1401.6,264.0L1403.4,263.2L1405.3,262.5L1407.1,261.7L1409.0,260.9L1410.8,260.2L1412.7,259.4L1414.5,258.6L1416.4,257.9L1418.2,257.1L1420.1,256.3L1421.9,255.6L1423.8,254.8L1425.6,254.1L1427.5,253.3L1429.3,252.5L1431.2,251.8L1433.0,251.0L1434.9,250.3L1436.7,249.5L1438.6,248.7L1440.4,248.0L1442.3,247.2L1444.1,246.5L1446.0,245.7L1447.8,245.0L1449.7,244.2L1451.6,243.5L1453.4,242.8L1455.3,242.0L1457.1,241.3L1459.0,240.6L1460.9,239.9L1462.8,239.2L1464.6,238.4L1466.5,237.7L1468.4,237.0L1470.3,236.3L1472.1,235.6L1474.0,234.9L1475.9,234.2L1477.8,233.5L1479.6,232.8L1481.5,232.1L1483.4,231.4L1485.3,230.7L1487.2,230.0L1489.0,229.3L1490.9,228.6L1492.8,227.9L1494.7,227.2L1496.5,226.5L1498.4,225.7L1500.3,225.0L1502.1,224.3L1504.0,223.6L1505.8,222.8L1507.7,222.1L1509.6,221.3L1511.4,220.6L1513.2,219.8L1515.1,219.0L1516.9,218.3L1518.8,217.5L1520.6,216.7L1522.4,215.9L1524.2,215.1L1526.0,214.2L1527.8,213.4L1529.6,212.5L1531.4,211.7L1533.2,210.8L1535.0,209.9L1536.8,209.0L1538.5,208.0L1540.3,207.1L1542.0,206.1L1543.8,205.2L1545.5,204.2L1547.3,203.2L1549.0,202.2L1550.8,201.3L1552.6,200.3L1554.3,199.3L1556.1,198.4L1557.8,197.4L1559.6,196.5L1561.4,195.6L1563.2,194.7L1564.9,193.8L1566.7,192.9L1568.5,192.0L1570.3,191.1L1572.1,190.2L1573.9,189.4L1575.7,188.5L1577.5,187.6L1579.3,186.8L1581.1,185.9L1582.9,185.0L1584.7,184.1L1586.5,183.2L1588.3,182.3L1590.1,181.4L1591.8,180.5L1593.6,179.5L1595.4,178.6L1597.1,177.6L1598.9,176.7L1600.6,175.7L1602.4,174.7L1604.1,173.7L1605.9,172.8L1607.6,171.8L1609.4,170.8L1611.1,169.9L1612.9,168.9L1614.6,167.9L1616.4,167.0L1618.2,166.1L1620.0,165.2L1621.8,164.3L1623.6,163.4L1625.4,162.5L1627.2,161.7L1629.1,160.9L1630.9,160.0L1632.8,159.2L1634.6,158.4L1636.5,157.6L1638.3,156.7L1640.2,155.9L1642.0,155.0L1643.8,154.2L1645.5,153.3L1647.3,152.3L1649.0,151.4L1650.7,150.4L1652.3,149.3L1653.9,148.2L1655.5,147.1L1657.1,145.9L1658.6,144.7L1660.1,143.4L1661.5,142.0L1663.0,140.7L1664.4,139.2L1665.7,137.8L1667.1,136.3L1668.4,134.8L1669.7,133.3L1670.4,132.5"/>
<path stroke="#ffc000" stroke-width="12.0" stroke-linecap="round" d="M258.5,747.0L258.5,688.5"/>
<path stroke="#ffc000" stroke-width="12.0" d="M270.0,700.0L270.4,698.0L270.8,696.1L271.2,694.1L271.7,692.2L272.1,690.2L272.6,688.3L273.0,686.3L273.5,684.4L274.0,682.4L274.5,680.5L275.0,678.6L275.5,676.6L276.0,674.7L276.6,672.8L277.2,670.9L277.7,669.0L278.3,667.1L278.9,665.1L279.5,663.2L280.1,661.3L280.7,659.4L281.3,657.5L281.9,655.6L282.5,653.7L283.1,651.8L283.7,649.9L284.4,648.0L285.0,646.1L285.6,644.2L286.3,642.3L286.9,640.4L287.6,638.5L288.3,636.6L288.9,634.8L289.6,632.9L290.3,631.0L291.0,629.1L291.7,627.3L292.4,625.4L293.1,623.5L293.9,621.6L294.6,619.8L295.3,617.9L296.0,616.0L296.7,614.2L297.5,612.3L298.2,610.4L298.9,608.6L299.7,606.7L300.5,604.9L301.3,603.1L302.1,601.2L302.9,599.4L303.8,597.6L304.7,595.8L305.6,594.1L306.6,592.3L307.5,590.5L308.5,588.8L309.6,587.1L310.6,585.4L311.7,583.7L312.9,582.1L314.0,580.5L315.2,578.9L316.5,577.3L317.8,575.8L319.1,574.4L320.5,572.9L322.0,571.6L323.4,570.2L325.0,569.0L326.5,567.7L328.1,566.6L329.8,565.4L331.4,564.3L333.1,563.2L334.8,562.2L336.5,561.1L338.1,560.0L339.8,558.9L341.4,557.7L343.1,556.6L344.7,555.5L346.4,554.3L348.0,553.2L349.7,552.1L351.4,551.0L353.1,549.9L354.8,548.9L356.5,547.8L358.2,546.8L359.9,545.9L361.7,544.9L363.5,544.0L365.2,543.1L367.0,542.2L368.8,541.3L370.7,540.5L372.5,539.7L374.3,538.9L376.2,538.1L378.0,537.4L379.9,536.7L381.8,536.0L383.6,535.3L385.5,534.6L387.4,534.0L389.3,533.4L391.2,532.7L393.1,532.1L395.0,531.6L397.0,531.0L398.9,530.4L400.8,529.8L402.7,529.3L404.6,528.7L406.6,528.2L408.5,527.7L410.4,527.2L412.4,526.6L414.3,526.1L416.2,525.6L418.2,525.1L420.1,524.6L422.0,524.1L424.0,523.6L425.9,523.1L427.8,522.6L429.8,522.0L431.7,521.5L433.6,521.0L435.5,520.5L437.5,519.9L439.4,519.4L441.3,518.8L443.3,518.3L445.2,517.8L447.1,517.2L449.0,516.7L451.0,516.1L452.9,515.6L454.8,515.0L456.7,514.5L458.6,513.9L460.6,513.4L462.5,512.8L464.4,512.3L466.3,511.7L468.3,511.2L470.2,510.6L472.1,510.1L474.0,509.5L475.9,509.0L477.9,508.4L479.8,507.8L481.7,507.3L483.6,506.7L485.5,506.1L487.5,505.6L489.4,505.0L491.3,504.4L493.2,503.8L495.1,503.2L497.0,502.6L498.9,502.0L500.8,501.4L502.8,500.8L504.7,500.2L506.6,499.6L508.5,499.0L510.4,498.4L512.3,497.8L514.2,497.2L516.1,496.6L518.0,496.0L519.9,495.4L521.9,494.8L523.8,494.2L525.7,493.6L527.6,493.0L529.5,492.4L531.4,491.8L533.3,491.2L535.3,490.7L537.2,490.1L539.1,489.6L541.0,489.0L542.9,488.5L544.9,487.9L546.8,487.4L548.7,486.9L550.6,486.4L552.6,485.9L554.5,485.4L556.4,484.9L558.4,484.4L560.3,484.0L562.3,483.5L564.2,483.1L566.1,482.6L568.1,482.2L570.0,481.8L572.0,481.3L573.9,480.9L575.9,480.5L577.9,480.1L579.8,479.7L581.8,479.3L583.7,478.9L585.7,478.5L587.6,478.1L589.6,477.7L591.6,477.3L593.5,477.0L595.5,476.6L597.5,476.2L599.4,475.8L601.4,475.5L603.4,475.1L605.3,474.7L607.3,474.4L609.3,474.0L611.3,473.7L613.2,473.3L615.2,473.0L617.2,472.6L619.1,472.3L621.1,471.9L623.1,471.6L625.1,471.2L627.0,470.9L629.0,470.6L631.0,470.2L633.0,469.9L634.9,469.6L636.9,469.2L638.9,468.9L640.9,468.5L642.8,468.2L644.8,467.9L646.8,467.5L648.7,467.2L650.7,466.9L652.7,466.6L654.7,466.2L656.6,465.9L658.6,465.6L660.6,465.3L662.6,464.9L664.5,464.6L666.5,464.3L668.5,464.0L670.5,463.7L672.4,463.4L674.4,463.1L676.4,462.8L678.4,462.5L680.3,462.2L682.3,461.9L684.3,461.6L686.3,461.3L688.3,461.0L690.2,460.7L692.2,460.4L694.2,460.1L696.2,459.8L698.2,459.6L700.1,459.3L702.1,459.0L704.1,458.7L706.1,458.4L708.1,458.2L710.0,457.9L712.0,457.6L714.0,457.4L716.0,457.1L718.0,456.8L719.9,456.6L721.9,456.3L723.9,456.0L725.9,455.8L727.9,455.5L729.9,455.2L731.8,455.0L733.8,454.7L735.8,454.4L737.8,454.2L739.8,453.9L741.8,453.6L743.7,453.4L745.7,453.1L747.7,452.8L749.7,452.5L751.7,452.3L753.6,452.0L755.6,451.7L757.6,451.4L759.6,451.2L761.6,450.9L763.5,450.6L765.5,450.3L767.5,450.1L769.5,449.8L771.5,449.5L773.4,449.2L775.4,448.9L777.4,448.7L779.4,448.4L781.4,448.1L783.4,447.8L785.3,447.6L787.3,447.3L789.3,447.0L791.3,446.7L793.3,446.4L795.2,446.2L797.2,445.9L799.2,445.6L801.2,445.3L803.2,445.0L805.1,444.7L807.1,444.5L809.1,444.2L811.1,443.9L813.1,443.6L815.0,443.3L817.0,443.0L819.0,442.7L821.0,442.4L822.9,442.1L824.9,441.8L826.9,441.5L828.9,441.2L830.9,441.0L832.8,440.7L834.8,440.4L836.8,440.0L838.8,439.7L840.7,439.4L842.7,439.1L844.7,438.8L846.7,438.5L848.6,438.2L850.6,437.9L852.6,437.6L854.6,437.3L856.5,436.9L858.5,436.6L860.5,436.3L862.5,436.0L864.4,435.6L866.4,435.3L868.4,435.0L870.4,434.6L872.3,434.3L874.3,434.0L876.3,433.6L878.2,433.3L880.2,433.0L882.2,432.6L884.1,432.3L886.1,431.9L888.1,431.6L890.1,431.2L892.0,430.9L894.0,430.6L896.0,430.2L897.9,429.9L899.9,429.5L901.9,429.2L903.8,428.8L905.8,428.4L907.8,428.1L909.8,427.7L911.7,427.4L913.7,427.0L915.7,426.7L917.6,426.3L919.6,426.0L921.6,425.6L923.5,425.3L925.5,424.9L927.5,424.5L929.4,424.2L931.4,423.8L933.4,423.5L935.3,423.1L937.3,422.8L939.3,422.4L941.2,422.1L943.2,421.7L945.2,421.4L947.2,421.0L949.1,420.7L951.1,420.3L953.1,420.0L955.0,419.6L957.0,419.3L959.0,419.0L961.0,418.6L962.9,418.3L964.9,418.0L966.9,417.7L968.9,417.3L970.9,417.0L972.8,416.7L974.8,416.3L976.8,416.0L978.8,415.7L980.7,415.3L982.7,415.0L984.7,414.6L986.6,414.2L988.6,413.8L990.5,413.5L992.5,413.1L994.4,412.6L996.4,412.2L998.3,411.8L1000.3,411.3L1002.2,410.9L1004.1,410.4L1006.1,409.9L1008.0,409.3L1009.9,408.8L1011.8,408.2L1013.7,407.7L1015.6,407.1L1017.5,406.5L1019.4,405.9L1021.4,405.2L1023.3,404.6L1025.2,404.0L1027.0,403.3L1028.9,402.7L1030.8,402.0L1032.7,401.3L1034.6,400.7L1036.5,400.0L1038.4,399.3L1040.3,398.6L1042.2,398.0L1044.1,397.3L1046.0,396.6L1047.8,396.0L1049.7,395.3L1051.6,394.6L1053.5,394.0L1055.4,393.3L1057.3,392.7L1059.2,392.0L1061.0,391.3L1062.9,390.7L1064.8,390.0L1066.7,389.3L1068.6,388.6L1070.5,388.0L1072.3,387.3L1074.2,386.6L1076.1,385.9L1078.0,385.2L1079.9,384.6L1081.7,383.9L1083.6,383.2L1085.5,382.5L1087.4,381.8L1089.3,381.1L1091.1,380.4L1093.0,379.7L1094.9,379.0L1096.8,378.3L1098.6,377.6L1100.5,376.9L1102.4,376.2L1104.2,375.5L1106.1,374.8L1108.0,374.1L1109.9,373.4L1111.7,372.6L1113.6,371.9L1115.5,371.2L1117.3,370.5L1119.2,369.8L1121.1,369.1L1122.9,368.3L1124.8,367.6L1126.7,366.9L1128.5,366.2L1130.4,365.4L1132.3,364.7L1134.1,364.0L1136.0,363.2L1137.8,362.5L1139.7,361.8L1141.6,361.0L1143.4,360.3L1145.3,359.6L1147.1,358.8L1149.0,358.1L1150.8,357.3L1152.7,356.6L1154.6,355.9L1156.4,355.1L1158.3,354.3L1160.1,353.6L1162.0,352.8L1163.8,352.1L1165.6,351.3L1167.5,350.5L1169.3,349.8L1171.2,349.0L1173.0,348.2L1174.9,347.4L1176.7,346.6L1178.5,345.9L1180.4,345.1L1182.2,344.3L1184.1,343.5L1185.9,342.7L1187.7,341.9L1189.6,341.1L1191.4,340.3L1193.2,339.5L1195.1,338.8L1196.9,338.0L1198.8,337.2L1200.6,336.4L1202.4,335.6L1204.3,334.8L1206.1,334.0L1207.9,333.2L1209.8,332.4L1211.6,331.6L1213.4,330.8L1215.3,330.0L1217.1,329.2L1218.9,328.4L1220.8,327.6L1222.6,326.8L1224.5,326.0L1226.3,325.2L1228.1,324.4L1230.0,323.6L1231.8,322.9L1233.6,322.1L1235.5,321.3L1237.3,320.5L1239.2,319.7L1241.0,319.0L1242.9,318.2L1244.7,317.4L1246.5,316.6L1248.4,315.9L1250.2,315.1L1252.1,314.4L1253.9,313.6L1255.8,312.8L1257.6,312.1L1259.5,311.3L1261.4,310.6L1263.2,309.8L1265.1,309.1L1266.9,308.3L1268.8,307.6L1270.6,306.8L1272.5,306.1L1274.3,305.3L1276.2,304.6L1278.1,303.9L1279.9,303.1L1281.8,302.4L1283.6,301.6L1285.5,300.9L1287.3,300.2L1289.2,299.4L1291.1,298.7L1292.9,298.0L1294.8,297.2L1296.6,296.5L1298.5,295.7L1300.4,295.0L1302.2,294.3L1304.1,293.5L1305.9,292.8L1307.8,292.1L1309.7,291.3L1311.5,290.6L1313.4,289.9L1315.2,289.1L1317.1,288.4L1319.0,287.7L1320.8,286.9L1322.7,286.2L1324.5,285.4L1326.4,284.7L1328.3,284.0L1330.1,283.2L1332.0,282.5L1333.8,281.7L1335.7,281.0L1337.5,280.2L1339.4,279.5L1341.2,278.7L1343.1,278.0L1345.0,277.2L1346.8,276.5L1348.7,275.7L1350.5,275.0L1352.4,274.2L1354.2,273.5L1356.1,272.7L1357.9,272.0L1359.8,271.2L1361.6,270.4L1363.5,269.7L1365.3,268.9L1367.2,268.2L1369.0,267.4L1370.9,266.6L1372.7,265.9L1374.6,265.1L1376.4,264.3L1378.3,263.6L1380.1,262.8L1382.0,262.0L1383.8,261.3L1385.6,260.5L1387.5,259.7L1389.3,259.0L1391.2,258.2L1393.0,257.4L1394.9,256.7L1396.7,255.9L1398.6,255.1L1400.4,254.4L1402.3,253.6L1404.1,252.8L1406.0,252.0L1407.8,251.3L1409.6,250.5L1411.5,249.7L1413.3,249.0L1415.2,248.2L1417.0,247.4L1418.9,246.6L1420.7,245.9L1422.6,245.1L1424.4,244.3L1426.2,243.5L1428.1,242.8L1429.9,242.0L1431.8,241.2L1433.6,240.4L1435.5,239.6L1437.3,238.9L1439.1,238.1L1441.0,237.3L1442.8,236.5L1444.7,235.8L1446.5,235.0L1448.4,234.2L1450.2,233.4L1452.0,232.6L1453.9,231.9L1455.7,231.1L1457.6,230.3L1459.4,229.6L1461.3,228.8L1463.1,228.0L1465.0,227.3L1466.8,226.5L1468.7,225.7L1470.5,225.0L1472.4,224.2L1474.2,223.4L1476.1,222.7L1477.9,221.9L1479.8,221.1L1481.6,220.4L1483.5,219.6L1485.3,218.8L1487.2,218.0L1489.0,217.3L1490.8,216.5L1492.7,215.7L1494.5,214.9L1496.4,214.2L1498.2,213.4L1500.1,212.6L1501.9,211.8L1503.7,211.0L1505.6,210.2L1507.4,209.4L1509.2,208.6L1511.1,207.8L1512.9,207.0L1514.7,206.2L1516.5,205.4L1518.4,204.6L1520.2,203.7L1522.0,202.9L1523.8,202.1L1525.6,201.2L1527.4,200.4L1529.2,199.5L1531.0,198.6L1532.8,197.8L1534.6,196.9L1536.4,196.0L1538.2,195.1L1540.0,194.2L1541.7,193.3L1543.5,192.4L1545.3,191.4L1547.1,190.5L1548.8,189.6L1550.6,188.6L1552.4,187.7L1554.2,186.8L1555.9,185.8L1557.7,184.9L1559.5,184.0L1561.2,183.1L1563.0,182.1L1564.8,181.2L1566.6,180.3L1568.3,179.4L1570.1,178.4L1571.9,177.5L1573.7,176.6L1575.4,175.7L1577.2,174.7L1579.0,173.8L1580.7,172.9L1582.5,171.9L1584.3,171.0L1586.1,170.1L1587.8,169.2L1589.6,168.3L1591.4,167.3L1593.2,166.4L1595.0,165.5L1596.8,164.6L1598.6,163.7L1600.5,162.8L1602.3,161.9L1604.1,161.0L1605.9,160.1L1607.6,159.2L1609.4,158.2L1611.1,157.3L1612.9,156.3L1614.5,155.3L1616.2,154.2L1617.8,153.1L1619.4,152.0L1621.0,150.8L1622.6,149.6L1624.1,148.4L1625.6,147.1L1627.0,145.7L1628.5,144.4L1629.9,143.0L1631.2,141.6L1632.6,140.1L1633.9,138.7L1635.1,137.2L1636.4,135.8L1637.6,134.3L1638.8,132.9"/>
<path stroke="#0e6fc6" stroke-width="12.0" stroke-linecap="round" d="M258.0,747.0L258.0,695.0"/>
<path stroke="#0e6fc6" stroke-width="12.0" d="M271.0,705.0L271.5,703.1L272.0,701.1L272.4,699.2L272.9,697.2L273.4,695.3L273.9,693.4L274.4,691.4L274.9,689.5L275.4,687.5L275.9,685.6L276.3,683.7L276.8,681.7L277.3,679.8L277.8,677.8L278.3,675.9L278.8,674.0L279.3,672.0L279.8,670.1L280.4,668.2L280.9,666.2L281.4,664.3L281.9,662.4L282.4,660.4L283.0,658.5L283.5,656.6L284.0,654.6L284.6,652.7L285.2,650.8L285.7,648.9L286.3,647.0L287.0,645.1L287.6,643.2L288.3,641.3L289.0,639.5L289.8,637.6L290.5,635.8L291.4,634.0L292.2,632.2L293.1,630.4L294.0,628.6L294.9,626.8L295.8,625.0L296.7,623.3L297.7,621.5L298.6,619.7L299.5,617.9L300.4,616.1L301.3,614.3L302.1,612.5L303.0,610.7L303.9,608.9L304.9,607.2L305.8,605.4L306.7,603.6L307.7,601.9L308.7,600.1L309.7,598.4L310.7,596.7L311.7,595.0L312.8,593.3L313.9,591.6L315.0,589.9L316.1,588.2L317.2,586.6L318.4,585.0L319.6,583.4L320.8,581.8L322.1,580.3L323.4,578.8L324.7,577.3L326.0,575.8L327.4,574.3L328.8,572.9L330.2,571.5L331.7,570.1L333.1,568.8L334.6,567.4L336.1,566.1L337.6,564.8L339.1,563.5L340.7,562.2L342.2,560.9L343.8,559.7L345.4,558.5L347.0,557.3L348.7,556.2L350.3,555.1L352.0,554.1L353.7,553.0L355.5,552.0L357.2,551.1L359.0,550.1L360.8,549.2L362.5,548.3L364.3,547.4L366.1,546.5L367.9,545.7L369.8,544.8L371.6,544.0L373.4,543.2L375.2,542.4L377.1,541.6L378.9,540.9L380.8,540.1L382.7,539.4L384.5,538.7L386.4,538.0L388.3,537.3L390.2,536.6L392.1,536.0L394.0,535.4L395.9,534.8L397.8,534.2L399.7,533.6L401.6,533.1L403.5,532.6L405.5,532.1L407.4,531.6L409.4,531.1L411.3,530.6L413.2,530.2L415.2,529.7L417.1,529.3L419.1,528.8L421.0,528.4L423.0,527.9L424.9,527.5L426.9,527.0L428.8,526.5L430.8,526.0L432.7,525.5L434.6,525.0L436.6,524.5L438.5,524.0L440.4,523.5L442.4,523.0L444.3,522.4L446.2,521.9L448.1,521.4L450.1,520.8L452.0,520.3L453.9,519.7L455.8,519.2L457.8,518.6L459.7,518.0L461.6,517.5L463.5,516.9L465.4,516.4L467.4,515.8L469.3,515.2L471.2,514.7L473.1,514.1L475.0,513.5L477.0,513.0L478.9,512.4L480.8,511.8L482.7,511.3L484.6,510.7L486.5,510.1L488.5,509.5L490.4,508.9L492.3,508.4L494.2,507.8L496.1,507.2L498.0,506.6L499.9,505.9L501.8,505.3L503.7,504.7L505.7,504.1L507.6,503.5L509.5,502.9L511.4,502.3L513.3,501.6L515.2,501.0L517.1,500.4L519.0,499.8L520.9,499.2L522.8,498.6L524.7,498.0L526.6,497.4L528.6,496.8L530.5,496.2L532.4,495.6L534.3,495.0L536.2,494.5L538.1,493.9L540.0,493.3L542.0,492.8L543.9,492.2L545.8,491.7L547.7,491.2L549.7,490.7L551.6,490.2L553.5,489.7L555.5,489.2L557.4,488.7L559.3,488.2L561.3,487.8L563.2,487.3L565.1,486.9L567.1,486.4L569.0,486.0L571.0,485.6L572.9,485.1L574.9,484.7L576.8,484.3L578.8,483.9L580.8,483.5L582.7,483.1L584.7,482.7L586.6,482.3L588.6,481.9L590.6,481.5L592.5,481.1L594.5,480.8L596.4,480.4L598.4,480.0L600.4,479.6L602.4,479.3L604.3,478.9L606.3,478.6L608.3,478.2L610.2,477.8L612.2,477.5L614.2,477.1L616.1,476.8L618.1,476.4L620.1,476.1L622.1,475.8L624.0,475.4L626.0,475.1L628.0,474.7L630.0,474.4L631.9,474.1L633.9,473.7L635.9,473.4L637.9,473.1L639.8,472.7L641.8,472.4L643.8,472.1L645.8,471.7L647.7,471.4L649.7,471.1L651.7,470.7L653.6,470.4L655.6,470.1L657.6,469.8L659.6,469.4L661.5,469.1L663.5,468.8L665.5,468.5L667.5,468.2L669.4,467.9L671.4,467.6L673.4,467.3L675.4,467.0L677.4,466.7L679.3,466.4L681.3,466.1L683.3,465.8L685.3,465.5L687.2,465.2L689.2,464.9L691.2,464.6L693.2,464.3L695.2,464.0L697.1,463.7L699.1,463.4L701.1,463.1L703.1,462.8L705.0,462.5L707.0,462.2L709.0,462.0L711.0,461.7L713.0,461.4L714.9,461.1L716.9,460.8L718.9,460.5L720.9,460.3L722.9,460.0L724.8,459.7L726.8,459.4L728.8,459.1L730.8,458.8L732.8,458.5L734.7,458.3L736.7,458.0L738.7,457.7L740.7,457.4L742.7,457.1L744.6,456.8L746.6,456.5L748.6,456.2L750.6,455.9L752.5,455.6L754.5,455.3L756.5,455.0L758.5,454.7L760.4,454.4L762.4,454.1L764.4,453.8L766.4,453.5L768.4,453.1L770.3,452.8L772.3,452.5L774.3,452.2L776.3,451.9L778.2,451.6L780.2,451.3L782.2,450.9L784.2,450.6L786.1,450.3L788.1,450.0L790.1,449.7L792.1,449.4L794.0,449.0L796.0,448.7L798.0,448.4L800.0,448.1L801.9,447.7L803.9,447.4L805.9,447.1L807.8,446.8L809.8,446.4L811.8,446.1L813.8,445.8L815.7,445.4L817.7,445.1L819.7,444.8L821.7,444.4L823.6,444.1L825.6,443.8L827.6,443.4L829.5,443.1L831.5,442.7L833.5,442.4L835.4,442.1L837.4,441.7L839.4,441.4L841.4,441.0L843.3,440.7L845.3,440.3L847.3,440.0L849.2,439.6L851.2,439.3L853.2,438.9L855.1,438.6L857.1,438.2L859.1,437.9L861.0,437.5L863.0,437.1L865.0,436.8L866.9,436.4L868.9,436.1L870.9,435.7L872.8,435.3L874.8,435.0L876.8,434.6L878.8,434.3L880.7,433.9L882.7,433.5L884.6,433.2L886.6,432.8L888.6,432.4L890.5,432.0L892.5,431.7L894.5,431.3L896.4,430.9L898.4,430.5L900.4,430.2L902.3,429.8L904.3,429.4L906.3,429.0L908.2,428.6L910.2,428.2L912.2,427.8L914.1,427.5L916.1,427.1L918.0,426.7L920.0,426.3L922.0,425.9L923.9,425.5L925.9,425.1L927.8,424.7L929.8,424.3L931.8,423.9L933.7,423.5L935.7,423.1L937.6,422.6L939.6,422.2L941.5,421.8L943.5,421.4L945.4,421.0L947.4,420.6L949.4,420.1L951.3,419.7L953.3,419.3L955.2,418.9L957.2,418.4L959.1,418.0L961.1,417.6L963.0,417.1L965.0,416.7L966.9,416.2L968.9,415.8L970.8,415.4L972.8,414.9L974.7,414.4L976.7,414.0L978.6,413.5L980.6,413.0L982.5,412.6L984.5,412.1L986.4,411.6L988.3,411.1L990.3,410.6L992.2,410.1L994.1,409.6L996.1,409.0L998.0,408.5L999.9,408.0L1001.8,407.4L1003.7,406.8L1005.6,406.3L1007.5,405.7L1009.5,405.1L1011.4,404.4L1013.3,403.8L1015.1,403.2L1017.0,402.6L1018.9,401.9L1020.8,401.2L1022.7,400.6L1024.6,399.9L1026.5,399.2L1028.4,398.6L1030.3,397.9L1032.1,397.2L1034.0,396.5L1035.9,395.8L1037.8,395.1L1039.6,394.4L1041.5,393.7L1043.4,393.0L1045.3,392.3L1047.1,391.6L1049.0,390.9L1050.9,390.2L1052.7,389.5L1054.6,388.7L1056.5,388.0L1058.4,387.3L1060.2,386.6L1062.1,385.9L1063.9,385.2L1065.8,384.4L1067.7,383.7L1069.5,383.0L1071.4,382.3L1073.3,381.5L1075.1,380.8L1077.0,380.0L1078.8,379.3L1080.7,378.5L1082.5,377.8L1084.4,377.1L1086.2,376.3L1088.1,375.6L1090.0,374.8L1091.8,374.0L1093.7,373.3L1095.5,372.5L1097.4,371.8L1099.2,371.0L1101.1,370.2L1102.9,369.5L1104.8,368.7L1106.6,367.9L1108.4,367.2L1110.3,366.4L1112.1,365.6L1114.0,364.9L1115.8,364.1L1117.7,363.3L1119.5,362.5L1121.4,361.8L1123.2,361.0L1125.1,360.2L1126.9,359.5L1128.8,358.7L1130.6,357.9L1132.4,357.1L1134.3,356.4L1136.1,355.6L1138.0,354.8L1139.8,354.0L1141.7,353.3L1143.5,352.5L1145.4,351.7L1147.2,351.0L1149.1,350.2L1150.9,349.4L1152.8,348.7L1154.6,347.9L1156.4,347.1L1158.3,346.3L1160.1,345.6L1162.0,344.8L1163.8,344.0L1165.7,343.3L1167.5,342.5L1169.4,341.7L1171.2,340.9L1173.0,340.1L1174.9,339.4L1176.7,338.6L1178.6,337.8L1180.4,337.0L1182.3,336.3L1184.1,335.5L1185.9,334.7L1187.8,333.9L1189.6,333.1L1191.5,332.4L1193.3,331.6L1195.1,330.8L1197.0,330.0L1198.8,329.2L1200.7,328.4L1202.5,327.7L1204.3,326.9L1206.2,326.1L1208.0,325.3L1209.9,324.5L1211.7,323.7L1213.5,322.9L1215.4,322.2L1217.2,321.4L1219.1,320.6L1220.9,319.8L1222.7,319.0L1224.6,318.2L1226.4,317.5L1228.3,316.7L1230.1,315.9L1231.9,315.1L1233.8,314.3L1235.6,313.5L1237.5,312.7L1239.3,312.0L1241.1,311.2L1243.0,310.4L1244.8,309.6L1246.7,308.8L1248.5,308.0L1250.3,307.3L1252.2,306.5L1254.0,305.7L1255.9,304.9L1257.7,304.1L1259.5,303.4L1261.4,302.6L1263.2,301.8L1265.1,301.0L1266.9,300.2L1268.7,299.4L1270.6,298.7L1272.4,297.9L1274.3,297.1L1276.1,296.3L1278.0,295.5L1279.8,294.8L1281.6,294.0L1283.5,293.2L1285.3,292.4L1287.2,291.7L1289.0,290.9L1290.8,290.1L1292.7,289.3L1294.5,288.5L1296.4,287.7L1298.2,287.0L1300.1,286.2L1301.9,285.4L1303.7,284.6L1305.6,283.8L1307.4,283.1L1309.3,282.3L1311.1,281.5L1312.9,280.7L1314.8,279.9L1316.6,279.1L1318.5,278.4L1320.3,277.6L1322.1,276.8L1324.0,276.0L1325.8,275.2L1327.7,274.4L1329.5,273.6L1331.3,272.8L1333.2,272.1L1335.0,271.3L1336.8,270.5L1338.7,269.7L1340.5,268.9L1342.4,268.1L1344.2,267.3L1346.0,266.5L1347.9,265.7L1349.7,264.9L1351.5,264.1L1353.4,263.3L1355.2,262.5L1357.0,261.7L1358.9,260.9L1360.7,260.1L1362.5,259.3L1364.4,258.5L1366.2,257.7L1368.0,256.9L1369.9,256.1L1371.7,255.3L1373.5,254.5L1375.4,253.7L1377.2,252.9L1379.0,252.1L1380.9,251.3L1382.7,250.5L1384.5,249.7L1386.3,248.9L1388.2,248.1L1390.0,247.3L1391.8,246.5L1393.7,245.7L1395.5,244.9L1397.3,244.1L1399.2,243.3L1401.0,242.5L1402.8,241.7L1404.6,240.8L1406.5,240.0L1408.3,239.2L1410.1,238.4L1412.0,237.6L1413.8,236.8L1415.6,236.0L1417.4,235.2L1419.3,234.3L1421.1,233.5L1422.9,232.7L1424.8,231.9L1426.6,231.1L1428.4,230.3L1430.2,229.5L1432.1,228.6L1433.9,227.8L1435.7,227.0L1437.5,226.2L1439.4,225.4L1441.2,224.6L1443.0,223.7L1444.8,222.9L1446.7,222.1L1448.5,221.3L1450.3,220.5L1452.1,219.6L1454.0,218.8L1455.8,218.0L1457.6,217.2L1459.4,216.4L1461.3,215.6L1463.1,214.7L1464.9,213.9L1466.7,213.1L1468.6,212.3L1470.4,211.5L1472.2,210.7L1474.0,209.8L1475.9,209.0L1477.7,208.2L1479.5,207.4L1481.4,206.6L1483.2,205.8L1485.0,204.9L1486.8,204.1L1488.7,203.3L1490.5,202.5L1492.3,201.6L1494.1,200.8L1495.9,200.0L1497.8,199.2L1499.6,198.3L1501.4,197.5L1503.2,196.7L1505.0,195.8L1506.8,195.0L1508.7,194.1L1510.5,193.3L1512.3,192.5L1514.1,191.6L1515.9,190.8L1517.7,189.9L1519.5,189.0L1521.3,188.2L1523.1,187.3L1524.9,186.4L1526.7,185.6L1528.5,184.7L1530.3,183.8L1532.1,182.9L1533.9,182.0L1535.7,181.1L1537.4,180.2L1539.2,179.3L1541.0,178.4L1542.8,177.5L1544.6,176.5L1546.3,175.6L1548.1,174.7L1549.9,173.8L1551.7,172.8L1553.4,171.9L1555.2,171.0L1557.0,170.1L1558.8,169.2L1560.6,168.3L1562.4,167.4L1564.2,166.5L1566.0,165.7L1567.8,164.8L1569.6,163.9L1571.4,163.1L1573.2,162.2L1575.0,161.3L1576.8,160.4L1578.6,159.6L1580.4,158.6L1582.2,157.7L1583.9,156.8L1585.7,155.8L1587.4,154.8L1589.1,153.8L1590.8,152.7L1592.5,151.6L1594.1,150.5L1595.7,149.4L1597.3,148.2L1598.9,146.9L1600.4,145.7L1601.9,144.4L1603.4,143.0L1604.8,141.6L1606.2,140.2L1607.5,138.7L1608.8,137.2L1610.1,135.7L1611.4,134.2L1612.6,132.6"/>
<path stroke="#3dab36" stroke-width="12.5" stroke-linecap="round" d="M257.0,747.0L257.0,704.5"/>
<path stroke="#3dab36" stroke-width="12.5" d="M266.0,720.0L266.6,718.1L267.1,716.2L267.7,714.3L268.3,712.3L268.9,710.4L269.4,708.5L270.0,706.6L270.6,704.7L271.2,702.8L271.7,700.8L272.3,698.9L272.9,697.0L273.5,695.1L274.1,693.2L274.6,691.3L275.2,689.4L275.8,687.4L276.3,685.5L276.9,683.6L277.5,681.7L278.1,679.8L278.6,677.8L279.2,675.9L279.7,674.0L280.3,672.1L280.9,670.2L281.4,668.2L282.0,666.3L282.5,664.4L283.1,662.5L283.6,660.5L284.1,658.6L284.7,656.7L285.2,654.7L285.7,652.8L286.2,650.9L286.8,649.0L287.4,647.0L288.0,645.1L288.6,643.3L289.3,641.4L290.0,639.6L290.8,637.7L291.6,635.9L292.5,634.1L293.4,632.4L294.3,630.6L295.3,628.9L296.3,627.1L297.2,625.4L298.2,623.6L299.2,621.9L300.2,620.1L301.1,618.3L302.0,616.5L302.9,614.7L303.8,613.0L304.7,611.2L305.6,609.4L306.5,607.6L307.4,605.8L308.4,604.1L309.3,602.3L310.3,600.6L311.3,598.8L312.3,597.1L313.4,595.4L314.4,593.7L315.5,592.0L316.7,590.4L317.8,588.7L319.0,587.1L320.2,585.5L321.4,583.9L322.6,582.4L323.9,580.8L325.2,579.3L326.5,577.8L327.9,576.4L329.3,574.9L330.7,573.5L332.1,572.1L333.5,570.7L335.0,569.3L336.5,568.0L338.0,566.7L339.5,565.3L341.0,564.0L342.6,562.8L344.1,561.5L345.7,560.3L347.3,559.1L349.0,558.0L350.6,556.9L352.3,555.9L354.0,554.9L355.8,553.9L357.5,553.0L359.3,552.0L361.1,551.1L362.9,550.3L364.7,549.4L366.5,548.6L368.3,547.7L370.2,546.9L372.0,546.1L373.8,545.3L375.7,544.6L377.5,543.8L379.4,543.1L381.2,542.3L383.1,541.6L385.0,540.9L386.9,540.3L388.8,539.6L390.7,539.0L392.6,538.4L394.5,537.8L396.4,537.2L398.3,536.6L400.2,536.1L402.2,535.6L404.1,535.1L406.0,534.6L408.0,534.1L409.9,533.6L411.9,533.2L413.8,532.7L415.8,532.3L417.7,531.9L419.7,531.4L421.6,531.0L423.6,530.6L425.5,530.1L427.5,529.6L429.4,529.2L431.4,528.7L433.3,528.2L435.2,527.7L437.2,527.2L439.1,526.7L441.0,526.2L443.0,525.7L444.9,525.1L446.8,524.6L448.8,524.1L450.7,523.5L452.6,523.0L454.5,522.5L456.5,521.9L458.4,521.4L460.3,520.8L462.2,520.3L464.1,519.7L466.1,519.1L468.0,518.6L469.9,518.0L471.8,517.5L473.8,516.9L475.7,516.3L477.6,515.8L479.5,515.2L481.4,514.7L483.3,514.1L485.3,513.5L487.2,512.9L489.1,512.4L491.0,511.8L492.9,511.2L494.8,510.6L496.7,510.0L498.7,509.4L500.6,508.8L502.5,508.2L504.4,507.6L506.3,507.0L508.2,506.3L510.1,505.7L512.0,505.1L513.9,504.5L515.8,503.9L517.7,503.3L519.6,502.7L521.6,502.1L523.5,501.5L525.4,500.9L527.3,500.3L529.2,499.7L531.1,499.1L533.0,498.5L534.9,497.9L536.8,497.3L538.8,496.8L540.7,496.2L542.6,495.7L544.5,495.1L546.4,494.6L548.4,494.0L550.3,493.5L552.2,493.0L554.2,492.5L556.1,492.0L558.0,491.5L560.0,491.1L561.9,490.6L563.8,490.1L565.8,489.7L567.7,489.2L569.7,488.8L571.6,488.3L573.6,487.9L575.5,487.5L577.5,487.1L579.4,486.6L581.4,486.2L583.3,485.8L585.3,485.4L587.2,485.0L589.2,484.6L591.2,484.2L593.1,483.8L595.1,483.4L597.0,483.0L599.0,482.6L601.0,482.2L602.9,481.9L604.9,481.5L606.9,481.1L608.8,480.7L610.8,480.4L612.8,480.0L614.8,479.6L616.7,479.3L618.7,478.9L620.7,478.6L622.6,478.2L624.6,477.8L626.6,477.5L628.5,477.1L630.5,476.8L632.5,476.4L634.5,476.1L636.4,475.7L638.4,475.4L640.4,475.1L642.4,474.7L644.3,474.4L646.3,474.0L648.3,473.7L650.2,473.4L652.2,473.0L654.2,472.7L656.2,472.4L658.1,472.1L660.1,471.8L662.1,471.4L664.1,471.1L666.0,470.8L668.0,470.5L670.0,470.2L672.0,469.9L673.9,469.6L675.9,469.3L677.9,469.0L679.9,468.7L681.8,468.4L683.8,468.1L685.8,467.8L687.8,467.5L689.8,467.2L691.7,466.9L693.7,466.6L695.7,466.3L697.7,466.0L699.6,465.7L701.6,465.4L703.6,465.0L705.6,464.7L707.5,464.4L709.5,464.1L711.5,463.8L713.5,463.5L715.4,463.2L717.4,462.9L719.4,462.5L721.4,462.2L723.3,461.9L725.3,461.6L727.3,461.3L729.3,461.0L731.2,460.7L733.2,460.4L735.2,460.0L737.2,459.7L739.1,459.4L741.1,459.1L743.1,458.8L745.1,458.5L747.1,458.2L749.0,457.9L751.0,457.6L753.0,457.2L755.0,456.9L756.9,456.6L758.9,456.3L760.9,456.0L762.9,455.7L764.8,455.4L766.8,455.1L768.8,454.8L770.8,454.5L772.8,454.2L774.7,453.9L776.7,453.6L778.7,453.3L780.7,453.1L782.7,452.8L784.6,452.5L786.6,452.2L788.6,451.9L790.6,451.6L792.5,451.3L794.5,451.0L796.5,450.7L798.5,450.4L800.5,450.1L802.4,449.8L804.4,449.5L806.4,449.2L808.4,448.9L810.4,448.6L812.3,448.3L814.3,448.0L816.3,447.7L818.3,447.4L820.2,447.1L822.2,446.8L824.2,446.4L826.2,446.1L828.1,445.8L830.1,445.5L832.1,445.2L834.1,444.8L836.0,444.5L838.0,444.2L840.0,443.8L841.9,443.5L843.9,443.2L845.9,442.8L847.8,442.5L849.8,442.1L851.8,441.8L853.7,441.4L855.7,441.0L857.7,440.7L859.6,440.3L861.6,439.9L863.6,439.6L865.5,439.2L867.5,438.8L869.4,438.4L871.4,438.0L873.4,437.6L875.3,437.2L877.3,436.8L879.2,436.4L881.2,436.0L883.2,435.6L885.1,435.2L887.1,434.8L889.0,434.4L891.0,434.0L893.0,433.6L894.9,433.2L896.9,432.7L898.8,432.3L900.8,431.9L902.7,431.5L904.7,431.0L906.6,430.6L908.6,430.2L910.6,429.8L912.5,429.3L914.5,428.9L916.4,428.5L918.4,428.0L920.3,427.6L922.3,427.2L924.2,426.7L926.2,426.3L928.1,425.8L930.1,425.4L932.0,425.0L934.0,424.5L935.9,424.1L937.9,423.6L939.8,423.2L941.8,422.8L943.7,422.3L945.7,421.9L947.6,421.4L949.6,421.0L951.5,420.6L953.5,420.1L955.5,419.7L957.4,419.3L959.4,418.8L961.3,418.4L963.3,417.9L965.2,417.5L967.2,417.1L969.1,416.6L971.1,416.2L973.0,415.7L975.0,415.3L976.9,414.8L978.9,414.4L980.8,413.9L982.8,413.5L984.7,413.0L986.7,412.5L988.6,412.0L990.5,411.5L992.5,411.0L994.4,410.5L996.3,410.0L998.2,409.4L1000.2,408.9L1002.1,408.3L1004.0,407.7L1005.9,407.1L1007.8,406.5L1009.7,405.9L1011.6,405.3L1013.5,404.7L1015.4,404.0L1017.3,403.4L1019.1,402.7L1021.0,402.0L1022.9,401.4L1024.8,400.7L1026.7,400.0L1028.5,399.3L1030.4,398.6L1032.3,397.9L1034.2,397.2L1036.0,396.4L1037.9,395.7L1039.8,395.0L1041.7,394.3L1043.5,393.6L1045.4,392.9L1047.3,392.1L1049.1,391.4L1051.0,390.7L1052.9,390.0L1054.7,389.3L1056.6,388.6L1058.5,387.8L1060.3,387.1L1062.2,386.4L1064.1,385.7L1065.9,384.9L1067.8,384.2L1069.6,383.5L1071.5,382.7L1073.4,382.0L1075.2,381.3L1077.1,380.5L1078.9,379.8L1080.8,379.0L1082.6,378.3L1084.5,377.5L1086.3,376.8L1088.2,376.0L1090.0,375.3L1091.9,374.5L1093.7,373.7L1095.6,373.0L1097.4,372.2L1099.3,371.5L1101.1,370.7L1103.0,369.9L1104.8,369.2L1106.7,368.4L1108.5,367.6L1110.4,366.9L1112.2,366.1L1114.1,365.3L1115.9,364.5L1117.8,363.8L1119.6,363.0L1121.5,362.2L1123.3,361.5L1125.2,360.7L1127.0,359.9L1128.8,359.1L1130.7,358.4L1132.5,357.6L1134.4,356.8L1136.2,356.1L1138.1,355.3L1139.9,354.5L1141.8,353.7L1143.6,353.0L1145.5,352.2L1147.3,351.4L1149.1,350.7L1151.0,349.9L1152.8,349.1L1154.7,348.3L1156.5,347.6L1158.4,346.8L1160.2,346.0L1162.1,345.3L1163.9,344.5L1165.8,343.7L1167.6,342.9L1169.4,342.2L1171.3,341.4L1173.1,340.6L1175.0,339.8L1176.8,339.1L1178.7,338.3L1180.5,337.5L1182.3,336.7L1184.2,335.9L1186.0,335.2L1187.9,334.4L1189.7,333.6L1191.5,332.8L1193.4,332.0L1195.2,331.2L1197.1,330.5L1198.9,329.7L1200.7,328.9L1202.6,328.1L1204.4,327.3L1206.3,326.5L1208.1,325.8L1209.9,325.0L1211.8,324.2L1213.6,323.4L1215.5,322.6L1217.3,321.8L1219.1,321.1L1221.0,320.3L1222.8,319.5L1224.7,318.7L1226.5,317.9L1228.3,317.1L1230.2,316.3L1232.0,315.6L1233.9,314.8L1235.7,314.0L1237.5,313.2L1239.4,312.4L1241.2,311.6L1243.1,310.9L1244.9,310.1L1246.7,309.3L1248.6,308.5L1250.4,307.7L1252.3,306.9L1254.1,306.2L1255.9,305.4L1257.8,304.6L1259.6,303.8L1261.5,303.0L1263.3,302.3L1265.2,301.5L1267.0,300.7L1268.8,299.9L1270.7,299.1L1272.5,298.4L1274.4,297.6L1276.2,296.8L1278.0,296.0L1279.9,295.2L1281.7,294.5L1283.6,293.7L1285.4,292.9L1287.3,292.1L1289.1,291.3L1290.9,290.6L1292.8,289.8L1294.6,289.0L1296.5,288.2L1298.3,287.4L1300.1,286.7L1302.0,285.9L1303.8,285.1L1305.7,284.3L1307.5,283.5L1309.3,282.7L1311.2,282.0L1313.0,281.2L1314.9,280.4L1316.7,279.6L1318.5,278.8L1320.4,278.0L1322.2,277.3L1324.1,276.5L1325.9,275.7L1327.7,274.9L1329.6,274.1L1331.4,273.3L1333.3,272.5L1335.1,271.7L1336.9,270.9L1338.8,270.2L1340.6,269.4L1342.4,268.6L1344.3,267.8L1346.1,267.0L1347.9,266.2L1349.8,265.4L1351.6,264.6L1353.4,263.8L1355.3,263.0L1357.1,262.2L1358.9,261.4L1360.8,260.6L1362.6,259.8L1364.4,259.0L1366.3,258.2L1368.1,257.4L1369.9,256.6L1371.8,255.8L1373.6,255.0L1375.4,254.2L1377.3,253.4L1379.1,252.6L1380.9,251.8L1382.8,251.0L1384.6,250.2L1386.4,249.4L1388.3,248.6L1390.1,247.7L1391.9,246.9L1393.7,246.1L1395.6,245.3L1397.4,244.5L1399.2,243.7L1401.1,242.9L1402.9,242.1L1404.7,241.3L1406.5,240.5L1408.4,239.6L1410.2,238.8L1412.0,238.0L1413.9,237.2L1415.7,236.4L1417.5,235.6L1419.3,234.8L1421.2,233.9L1423.0,233.1L1424.8,232.3L1426.6,231.5L1428.5,230.7L1430.3,229.9L1432.1,229.0L1433.9,228.2L1435.8,227.4L1437.6,226.6L1439.4,225.8L1441.2,224.9L1443.1,224.1L1444.9,223.3L1446.7,222.5L1448.5,221.7L1450.4,220.8L1452.2,220.0L1454.0,219.2L1455.8,218.4L1457.7,217.6L1459.5,216.7L1461.3,215.9L1463.1,215.1L1465.0,214.3L1466.8,213.5L1468.6,212.7L1470.4,211.8L1472.3,211.0L1474.1,210.2L1475.9,209.4L1477.8,208.6L1479.6,207.8L1481.4,206.9L1483.2,206.1L1485.1,205.3L1486.9,204.5L1488.7,203.7L1490.5,202.8L1492.4,202.0L1494.2,201.2L1496.0,200.4L1497.8,199.5L1499.6,198.7L1501.4,197.9L1503.3,197.0L1505.1,196.2L1506.9,195.3L1508.7,194.5L1510.5,193.6L1512.3,192.8L1514.1,191.9L1515.9,191.1L1517.7,190.2L1519.5,189.3L1521.3,188.5L1523.1,187.6L1524.9,186.7L1526.7,185.8L1528.5,184.9L1530.3,184.0L1532.1,183.1L1533.9,182.2L1535.6,181.3L1537.4,180.4L1539.2,179.5L1541.0,178.6L1542.8,177.6L1544.5,176.7L1546.3,175.8L1548.0,174.8L1549.8,173.8L1551.6,172.9L1553.3,171.9L1555.0,170.9L1556.8,169.9L1558.5,168.9L1560.2,167.9L1561.9,166.9L1563.7,165.9L1565.4,164.8L1567.1,163.8L1568.8,162.7L1570.5,161.7L1572.2,160.6L1573.9,159.5L1575.6,158.4L1577.2,157.3L1578.9,156.2L1580.5,155.0L1582.2,153.8L1583.8,152.7L1585.3,151.5L1586.9,150.2L1588.4,149.0L1589.9,147.7L1591.4,146.4L1592.9,145.1L1594.3,143.7L1595.6,142.4L1597.0,141.0L1598.3,139.7L1599.0,139.0"/>
<path stroke="#035b93" stroke-width="14.5" d="M258.5,747.5L258.9,745.5L259.3,743.6L259.7,741.6L260.1,739.7L260.5,737.7L260.9,735.8L261.4,733.8L261.8,731.8L262.2,729.9L262.7,727.9L263.1,726.0L263.6,724.0L264.0,722.1L264.5,720.2L265.0,718.2L265.5,716.3L265.9,714.3L266.4,712.4L266.9,710.5L267.4,708.5L267.9,706.6L268.4,704.6L268.9,702.7L269.4,700.8L269.9,698.8L270.5,696.9L271.0,695.0L271.5,693.0L272.0,691.1L272.5,689.2L273.0,687.2L273.5,685.3L274.1,683.4L274.6,681.4L275.1,679.5L275.6,677.6L276.1,675.6L276.7,673.7L277.2,671.8L277.8,669.9L278.3,667.9L278.9,666.0L279.4,664.1L280.0,662.2L280.6,660.3L281.2,658.4L281.8,656.5L282.4,654.6L283.0,652.7L283.7,650.8L284.3,648.9L285.0,647.0L285.7,645.1L286.4,643.2L287.1,641.4L287.8,639.5L288.6,637.7L289.3,635.8L290.1,634.0L290.9,632.1L291.7,630.3L292.5,628.5L293.4,626.7L294.2,624.9L295.1,623.1L296.0,621.3L296.8,619.5L297.7,617.7L298.6,615.9L299.5,614.1L300.5,612.3L301.4,610.6L302.3,608.8L303.3,607.0L304.2,605.3L305.2,603.5L306.2,601.8L307.2,600.0L308.2,598.3L309.2,596.6L310.2,594.9L311.3,593.2L312.3,591.5L313.5,589.8L314.6,588.2L315.8,586.6L317.0,585.0L318.2,583.4L319.5,581.9L320.7,580.3L322.0,578.8L323.3,577.3L324.7,575.8L326.0,574.3L327.4,572.8L328.7,571.4L330.1,569.9L331.5,568.5L333.0,567.1L334.4,565.7L335.9,564.4L337.3,563.0L338.8,561.7L340.4,560.4L341.9,559.1L343.5,557.9L345.1,556.7L346.7,555.5L348.3,554.4L350.0,553.3L351.6,552.2L353.3,551.1L355.1,550.1L356.8,549.1L358.6,548.2L360.3,547.3L362.1,546.3L363.9,545.4L365.7,544.5L367.5,543.7L369.3,542.8L371.1,542.0L372.9,541.2L374.8,540.3L376.6,539.5L378.4,538.8L380.3,538.0L382.1,537.2L384.0,536.5L385.9,535.8L387.7,535.1L389.6,534.4L391.5,533.7L393.4,533.1L395.3,532.4L397.2,531.8L399.1,531.2L401.0,530.7L402.9,530.1L404.8,529.6L406.8,529.1L408.7,528.6L410.7,528.1L412.6,527.6L414.5,527.2L416.5,526.7L418.4,526.2L420.4,525.8L422.3,525.3L424.3,524.9L426.2,524.4L428.2,523.9L430.1,523.4L432.0,522.9L434.0,522.4L435.9,521.9L437.8,521.4L439.8,520.8L441.7,520.3L443.6,519.8L445.5,519.2L447.5,518.7L449.4,518.1L451.3,517.6L453.2,517.0L455.2,516.5L457.1,515.9L459.0,515.4L460.9,514.8L462.8,514.2L464.8,513.7L466.7,513.1L468.6,512.5L470.5,512.0L472.4,511.4L474.4,510.8L476.3,510.3L478.2,509.7L480.1,509.1L482.0,508.6L484.0,508.0L485.9,507.4L487.8,506.9L489.7,506.3L491.6,505.7L493.5,505.1L495.4,504.5L497.4,503.9L499.3,503.3L501.2,502.7L503.1,502.1L505.0,501.5L506.9,500.9L508.8,500.3L510.7,499.7L512.6,499.1L514.6,498.5L516.5,497.9L518.4,497.3L520.3,496.7L522.2,496.1L524.1,495.5L526.0,494.9L527.9,494.3L529.9,493.8L531.8,493.2L533.7,492.6L535.6,492.0L537.5,491.5L539.4,490.9L541.4,490.4L543.3,489.8L545.2,489.3L547.1,488.8L549.1,488.3L551.0,487.8L552.9,487.3L554.9,486.8L556.8,486.3L558.7,485.9L560.7,485.4L562.6,484.9L564.6,484.5L566.5,484.1L568.5,483.6L570.4,483.2L572.4,482.8L574.3,482.4L576.3,481.9L578.2,481.5L580.2,481.1L582.1,480.7L584.1,480.3L586.1,480.0L588.0,479.6L590.0,479.2L591.9,478.8L593.9,478.4L595.9,478.1L597.8,477.7L599.8,477.3L601.8,476.9L603.7,476.6L605.7,476.2L607.7,475.9L609.7,475.5L611.6,475.2L613.6,474.8L615.6,474.5L617.5,474.1L619.5,473.8L621.5,473.4L623.5,473.1L625.4,472.7L627.4,472.4L629.4,472.0L631.4,471.7L633.3,471.4L635.3,471.0L637.3,470.7L639.3,470.4L641.2,470.0L643.2,469.7L645.2,469.3L647.1,469.0L649.1,468.7L651.1,468.3L653.1,468.0L655.0,467.6L657.0,467.3L659.0,467.0L660.9,466.6L662.9,466.3L664.9,466.0L666.9,465.7L668.8,465.3L670.8,465.0L672.8,464.7L674.8,464.4L676.7,464.1L678.7,463.7L680.7,463.4L682.7,463.1L684.6,462.8L686.6,462.5L688.6,462.2L690.6,461.9L692.5,461.6L694.5,461.3L696.5,461.0L698.5,460.7L700.5,460.4L702.4,460.1L704.4,459.9L706.4,459.6L708.4,459.3L710.4,459.0L712.3,458.8L714.3,458.5L716.3,458.2L718.3,458.0L720.3,457.7L722.3,457.5L724.2,457.2L726.2,456.9L728.2,456.7L730.2,456.4L732.2,456.1L734.2,455.8L736.1,455.6L738.1,455.3L740.1,455.0L742.1,454.7L744.0,454.4L746.0,454.1L748.0,453.8L750.0,453.5L751.9,453.2L753.9,452.8L755.9,452.5L757.9,452.2L759.8,451.8L761.8,451.5L763.8,451.1L765.7,450.8L767.7,450.4L769.7,450.1L771.6,449.7L773.6,449.3L775.6,449.0L777.5,448.6L779.5,448.2L781.4,447.8L783.4,447.5L785.4,447.1L787.3,446.7L789.3,446.3L791.3,445.9L793.2,445.5L795.2,445.1L797.1,444.7L799.1,444.3L801.1,443.9L803.0,443.5L805.0,443.1L806.9,442.7L808.9,442.3L810.9,441.8L812.8,441.4L814.8,441.0L816.7,440.6L818.7,440.2L820.6,439.8L822.6,439.4L824.6,438.9L826.5,438.5L828.5,438.1L830.4,437.7L832.4,437.3L834.3,436.8L836.3,436.4L838.3,436.0L840.2,435.6L842.2,435.2L844.1,434.8L846.1,434.3L848.0,433.9L850.0,433.5L852.0,433.1L853.9,432.7L855.9,432.3L857.8,431.8L859.8,431.4L861.7,431.0L863.7,430.6L865.6,430.2L867.6,429.8L869.6,429.4L871.5,428.9L873.5,428.5L875.4,428.1L877.4,427.7L879.4,427.3L881.3,426.9L883.3,426.4L885.2,426.0L887.2,425.6L889.1,425.2L891.1,424.8L893.0,424.3L895.0,423.9L897.0,423.5L898.9,423.0L900.9,422.6L902.8,422.2L904.8,421.7L906.7,421.3L908.7,420.9L910.6,420.4L912.6,420.0L914.5,419.5L916.5,419.1L918.4,418.7L920.4,418.2L922.3,417.7L924.3,417.3L926.2,416.8L928.2,416.4L930.1,415.9L932.1,415.4L934.0,415.0L935.9,414.5L937.9,414.0L939.8,413.5L941.8,413.1L943.7,412.6L945.6,412.1L947.6,411.6L949.5,411.1L951.4,410.6L953.4,410.1L955.3,409.6L957.2,409.1L959.2,408.6L961.1,408.0L963.0,407.5L965.0,407.0L966.9,406.4L968.8,405.9L970.7,405.3L972.7,404.8L974.6,404.2L976.5,403.7L978.4,403.1L980.3,402.5L982.3,402.0L984.2,401.4L986.1,400.8L988.0,400.2L989.9,399.6L991.8,399.1L993.7,398.5L995.6,397.9L997.5,397.3L999.5,396.6L1001.4,396.0L1003.3,395.4L1005.2,394.8L1007.1,394.2L1008.9,393.5L1010.8,392.9L1012.7,392.2L1014.6,391.6L1016.5,390.9L1018.4,390.3L1020.3,389.6L1022.2,389.0L1024.1,388.3L1026.0,387.6L1027.8,386.9L1029.7,386.3L1031.6,385.6L1033.5,384.9L1035.4,384.2L1037.2,383.5L1039.1,382.8L1041.0,382.1L1042.8,381.4L1044.7,380.7L1046.6,380.0L1048.5,379.3L1050.3,378.6L1052.2,377.8L1054.1,377.1L1055.9,376.4L1057.8,375.7L1059.6,375.0L1061.5,374.2L1063.4,373.5L1065.2,372.8L1067.1,372.0L1068.9,371.3L1070.8,370.5L1072.6,369.8L1074.5,369.0L1076.4,368.3L1078.2,367.5L1080.1,366.8L1081.9,366.0L1083.8,365.2L1085.6,364.5L1087.5,363.7L1089.3,362.9L1091.1,362.2L1093.0,361.4L1094.8,360.6L1096.7,359.8L1098.5,359.1L1100.4,358.3L1102.2,357.5L1104.0,356.7L1105.9,355.9L1107.7,355.2L1109.6,354.4L1111.4,353.6L1113.3,352.8L1115.1,352.0L1116.9,351.2L1118.8,350.5L1120.6,349.7L1122.5,348.9L1124.3,348.1L1126.1,347.3L1128.0,346.5L1129.8,345.7L1131.7,344.9L1133.5,344.1L1135.3,343.4L1137.2,342.6L1139.0,341.8L1140.8,341.0L1142.7,340.2L1144.5,339.4L1146.4,338.6L1148.2,337.9L1150.0,337.1L1151.9,336.3L1153.7,335.5L1155.6,334.7L1157.4,333.9L1159.2,333.2L1161.1,332.4L1162.9,331.6L1164.8,330.8L1166.6,330.0L1168.4,329.2L1170.3,328.4L1172.1,327.6L1174.0,326.9L1175.8,326.1L1177.6,325.3L1179.5,324.5L1181.3,323.7L1183.1,322.9L1185.0,322.1L1186.8,321.3L1188.6,320.5L1190.5,319.7L1192.3,318.9L1194.1,318.1L1196.0,317.3L1197.8,316.5L1199.7,315.7L1201.5,314.9L1203.3,314.1L1205.2,313.3L1207.0,312.5L1208.8,311.8L1210.7,311.0L1212.5,310.2L1214.3,309.4L1216.2,308.6L1218.0,307.8L1219.8,307.0L1221.7,306.2L1223.5,305.4L1225.3,304.6L1227.2,303.8L1229.0,303.0L1230.8,302.2L1232.7,301.4L1234.5,300.6L1236.3,299.8L1238.2,299.0L1240.0,298.2L1241.8,297.4L1243.7,296.6L1245.5,295.8L1247.3,295.0L1249.2,294.2L1251.0,293.4L1252.8,292.6L1254.7,291.8L1256.5,291.0L1258.3,290.2L1260.2,289.4L1262.0,288.6L1263.8,287.8L1265.7,287.0L1267.5,286.2L1269.3,285.4L1271.2,284.6L1273.0,283.8L1274.8,283.0L1276.7,282.2L1278.5,281.4L1280.3,280.6L1282.2,279.8L1284.0,279.0L1285.8,278.2L1287.7,277.4L1289.5,276.6L1291.3,275.8L1293.2,275.0L1295.0,274.2L1296.9,273.4L1298.7,272.6L1300.5,271.8L1302.4,271.0L1304.2,270.2L1306.0,269.4L1307.9,268.6L1309.7,267.8L1311.5,267.0L1313.3,266.2L1315.2,265.4L1317.0,264.6L1318.8,263.8L1320.7,263.0L1322.5,262.2L1324.3,261.4L1326.2,260.6L1328.0,259.8L1329.8,259.0L1331.7,258.2L1333.5,257.4L1335.3,256.6L1337.1,255.7L1339.0,254.9L1340.8,254.1L1342.6,253.3L1344.4,252.5L1346.3,251.7L1348.1,250.9L1349.9,250.0L1351.7,249.2L1353.6,248.4L1355.4,247.6L1357.2,246.7L1359.0,245.9L1360.9,245.1L1362.7,244.3L1364.5,243.4L1366.3,242.6L1368.1,241.8L1370.0,241.0L1371.8,240.1L1373.6,239.3L1375.4,238.5L1377.2,237.6L1379.1,236.8L1380.9,236.0L1382.7,235.1L1384.5,234.3L1386.3,233.5L1388.1,232.6L1390.0,231.8L1391.8,231.0L1393.6,230.1L1395.4,229.3L1397.2,228.5L1399.0,227.6L1400.9,226.8L1402.7,225.9L1404.5,225.1L1406.3,224.3L1408.1,223.4L1409.9,222.6L1411.7,221.7L1413.6,220.9L1415.4,220.0L1417.2,219.2L1419.0,218.4L1420.8,217.5L1422.6,216.7L1424.4,215.8L1426.2,215.0L1428.1,214.1L1429.9,213.3L1431.7,212.4L1433.5,211.6L1435.3,210.7L1437.1,209.9L1438.9,209.0L1440.7,208.2L1442.5,207.3L1444.3,206.5L1446.2,205.6L1448.0,204.8L1449.8,203.9L1451.6,203.1L1453.4,202.2L1455.2,201.4L1457.0,200.5L1458.9,199.7L1460.7,198.8L1462.5,198.0L1464.3,197.2L1466.1,196.3L1468.0,195.5L1469.8,194.7L1471.6,193.8L1473.4,193.0L1475.2,192.2L1477.1,191.3L1478.9,190.5L1480.7,189.7L1482.5,188.8L1484.4,188.0L1486.2,187.1L1488.0,186.3L1489.8,185.4L1491.6,184.6L1493.4,183.7L1495.2,182.9L1497.1,182.0L1498.9,181.2L1500.7,180.3L1502.5,179.4L1504.3,178.6L1506.1,177.7L1507.9,176.8L1509.6,175.9L1511.4,175.0L1513.2,174.1L1515.0,173.2L1516.8,172.3L1518.5,171.4L1520.3,170.4L1522.1,169.5L1523.8,168.6L1525.6,167.6L1527.3,166.6L1529.0,165.7L1530.8,164.7L1532.5,163.7L1534.3,162.7L1536.0,161.7L1537.7,160.7L1539.4,159.7L1541.2,158.6L1542.9,157.6L1544.6,156.5L1546.3,155.4L1547.9,154.4L1549.6,153.3L1551.3,152.1L1552.9,151.0L1554.6,149.8L1556.2,148.7L1557.8,147.5L1559.3,146.3L1560.9,145.0L1562.4,143.8L1564.0,142.5L1565.5,141.2L1566.9,139.9L1568.4,138.6L1569.8,137.2L1571.2,135.9L1572.6,134.5L1574.0,133.2L1574.7,132.5"/>
</g>
<g fill="none" stroke-width="11.0" stroke-linecap="round">
<path stroke="#0898d6" d="M1933,62.5L2057,62.5"/>
<path stroke="#ff7b20" d="M1933,177.0L2057,177.0"/>
<path stroke="#a5a5a5" d="M1933,292.5L2057,292.5"/>
<path stroke="#ffc000" d="M1933,408.4L2057,408.4"/>
<path stroke="#0e6fc6" d="M1933,523.8L2057,523.8"/>
<path stroke="#3dab36" d="M1933,639.0L2057,639.0"/>
<path stroke="#035b93" d="M1933,754.3L2057,754.3"/>
</g>
<g font-family="'Liberation Sans', Arial, sans-serif" fill="#000"><text x="124.70" y="144.55" font-size="71.23" textLength="94.01" lengthAdjust="spacingAndGlyphs">4.2</text>
<text x="125.70" y="360.80" font-size="71.23" textLength="93.77" lengthAdjust="spacingAndGlyphs">3.8</text>
<text x="126.45" y="567.30" font-size="71.23" textLength="92.84" lengthAdjust="spacingAndGlyphs">3.4</text>
<text x="168.95" y="788.30" font-size="71.23" textLength="35.73" lengthAdjust="spacingAndGlyphs">3</text>
<text x="437.20" y="831.55" font-size="71.23" textLength="77.17" lengthAdjust="spacingAndGlyphs">10</text>
<text x="675.20" y="831.45" font-size="71.23" textLength="80.38" lengthAdjust="spacingAndGlyphs">20</text>
<text x="905.20" y="831.45" font-size="71.23" textLength="75.67" lengthAdjust="spacingAndGlyphs">30</text>
<text x="1120.95" y="831.25" font-size="71.23" textLength="79.47" lengthAdjust="spacingAndGlyphs">40</text>
<text x="1358.70" y="831.25" font-size="71.23" textLength="77.61" lengthAdjust="spacingAndGlyphs">50</text>
<text x="1590.70" y="831.25" font-size="71.23" textLength="80.60" lengthAdjust="spacingAndGlyphs">60</text>
<text x="832.95" y="929.70" font-size="75.04" textLength="553.10" lengthAdjust="spacingAndGlyphs">Cell capacity (Ah)</text>
<text transform="translate(72.40,610.55) rotate(-90)" x="0" y="0" font-size="67.79" textLength="393.62" lengthAdjust="spacingAndGlyphs">Potential (V)</text>
<text x="2110.20" y="85.80" font-size="72.20" textLength="176.89" lengthAdjust="spacingAndGlyphs">100%</text>
<text x="2106.95" y="194.55" font-size="72.20" textLength="236.16" lengthAdjust="spacingAndGlyphs">99.52%</text>
<text x="2107.95" y="312.30" font-size="72.20" textLength="235.38" lengthAdjust="spacingAndGlyphs">98.45%</text>
<text x="2107.95" y="423.80" font-size="72.20" textLength="235.38" lengthAdjust="spacingAndGlyphs">96.14%</text>
<text x="2106.95" y="535.55" font-size="72.20" textLength="236.15" lengthAdjust="spacingAndGlyphs">94.54%</text>
<text x="2106.95" y="656.30" font-size="72.20" textLength="236.16" lengthAdjust="spacingAndGlyphs">93.54%</text>
<text x="2108.20" y="764.80" font-size="72.20" textLength="235.70" lengthAdjust="spacingAndGlyphs">91.81%</text></g>
</svg>
</body></html>
